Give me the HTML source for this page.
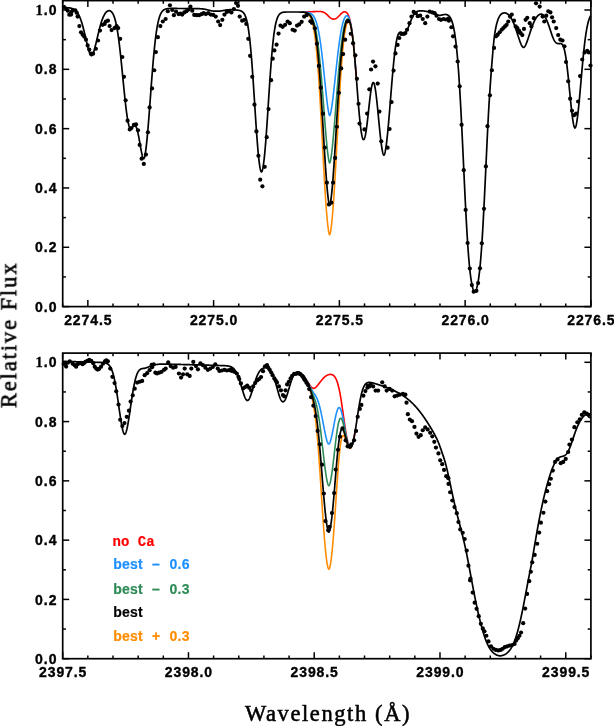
<!DOCTYPE html>
<html><head><meta charset="utf-8"><style>
html,body{margin:0;padding:0;background:#fff;overflow:hidden;width:614px;height:726px;}
svg{display:block;}
text{will-change:transform;}
</style></head><body>
<svg width="614" height="726" viewBox="0 0 614 726">
<rect width="614" height="726" fill="#fff"/>
<g stroke="#000" stroke-width="1.5" fill="none">
<rect x="62.70" y="0.60" width="528.20" height="306.00" fill="none" stroke="#000" stroke-width="1.7"/>
<line x1="62.70" y1="306.60" x2="62.70" y2="303.40"/>
<line x1="62.70" y1="0.60" x2="62.70" y2="3.80"/>
<line x1="87.85" y1="306.60" x2="87.85" y2="300.10"/>
<line x1="87.85" y1="0.60" x2="87.85" y2="7.10"/>
<line x1="113.00" y1="306.60" x2="113.00" y2="303.40"/>
<line x1="113.00" y1="0.60" x2="113.00" y2="3.80"/>
<line x1="138.16" y1="306.60" x2="138.16" y2="303.40"/>
<line x1="138.16" y1="0.60" x2="138.16" y2="3.80"/>
<line x1="163.31" y1="306.60" x2="163.31" y2="303.40"/>
<line x1="163.31" y1="0.60" x2="163.31" y2="3.80"/>
<line x1="188.46" y1="306.60" x2="188.46" y2="303.40"/>
<line x1="188.46" y1="0.60" x2="188.46" y2="3.80"/>
<line x1="213.61" y1="306.60" x2="213.61" y2="300.10"/>
<line x1="213.61" y1="0.60" x2="213.61" y2="7.10"/>
<line x1="238.77" y1="306.60" x2="238.77" y2="303.40"/>
<line x1="238.77" y1="0.60" x2="238.77" y2="3.80"/>
<line x1="263.92" y1="306.60" x2="263.92" y2="303.40"/>
<line x1="263.92" y1="0.60" x2="263.92" y2="3.80"/>
<line x1="289.07" y1="306.60" x2="289.07" y2="303.40"/>
<line x1="289.07" y1="0.60" x2="289.07" y2="3.80"/>
<line x1="314.22" y1="306.60" x2="314.22" y2="303.40"/>
<line x1="314.22" y1="0.60" x2="314.22" y2="3.80"/>
<line x1="339.38" y1="306.60" x2="339.38" y2="300.10"/>
<line x1="339.38" y1="0.60" x2="339.38" y2="7.10"/>
<line x1="364.53" y1="306.60" x2="364.53" y2="303.40"/>
<line x1="364.53" y1="0.60" x2="364.53" y2="3.80"/>
<line x1="389.68" y1="306.60" x2="389.68" y2="303.40"/>
<line x1="389.68" y1="0.60" x2="389.68" y2="3.80"/>
<line x1="414.83" y1="306.60" x2="414.83" y2="303.40"/>
<line x1="414.83" y1="0.60" x2="414.83" y2="3.80"/>
<line x1="439.99" y1="306.60" x2="439.99" y2="303.40"/>
<line x1="439.99" y1="0.60" x2="439.99" y2="3.80"/>
<line x1="465.14" y1="306.60" x2="465.14" y2="300.10"/>
<line x1="465.14" y1="0.60" x2="465.14" y2="7.10"/>
<line x1="490.29" y1="306.60" x2="490.29" y2="303.40"/>
<line x1="490.29" y1="0.60" x2="490.29" y2="3.80"/>
<line x1="515.44" y1="306.60" x2="515.44" y2="303.40"/>
<line x1="515.44" y1="0.60" x2="515.44" y2="3.80"/>
<line x1="540.60" y1="306.60" x2="540.60" y2="303.40"/>
<line x1="540.60" y1="0.60" x2="540.60" y2="3.80"/>
<line x1="565.75" y1="306.60" x2="565.75" y2="303.40"/>
<line x1="565.75" y1="0.60" x2="565.75" y2="3.80"/>
<line x1="590.90" y1="306.60" x2="590.90" y2="300.10"/>
<line x1="590.90" y1="0.60" x2="590.90" y2="7.10"/>
<line x1="62.70" y1="306.60" x2="69.20" y2="306.60"/>
<line x1="590.90" y1="306.60" x2="584.40" y2="306.60"/>
<line x1="62.70" y1="276.94" x2="65.90" y2="276.94"/>
<line x1="590.90" y1="276.94" x2="587.70" y2="276.94"/>
<line x1="62.70" y1="247.28" x2="69.20" y2="247.28"/>
<line x1="590.90" y1="247.28" x2="584.40" y2="247.28"/>
<line x1="62.70" y1="217.62" x2="65.90" y2="217.62"/>
<line x1="590.90" y1="217.62" x2="587.70" y2="217.62"/>
<line x1="62.70" y1="187.96" x2="69.20" y2="187.96"/>
<line x1="590.90" y1="187.96" x2="584.40" y2="187.96"/>
<line x1="62.70" y1="158.30" x2="65.90" y2="158.30"/>
<line x1="590.90" y1="158.30" x2="587.70" y2="158.30"/>
<line x1="62.70" y1="128.64" x2="69.20" y2="128.64"/>
<line x1="590.90" y1="128.64" x2="584.40" y2="128.64"/>
<line x1="62.70" y1="98.98" x2="65.90" y2="98.98"/>
<line x1="590.90" y1="98.98" x2="587.70" y2="98.98"/>
<line x1="62.70" y1="69.32" x2="69.20" y2="69.32"/>
<line x1="590.90" y1="69.32" x2="584.40" y2="69.32"/>
<line x1="62.70" y1="39.66" x2="65.90" y2="39.66"/>
<line x1="590.90" y1="39.66" x2="587.70" y2="39.66"/>
<line x1="62.70" y1="10.00" x2="69.20" y2="10.00"/>
<line x1="590.90" y1="10.00" x2="584.40" y2="10.00"/>
<rect x="62.70" y="353.10" width="528.20" height="305.60" fill="none" stroke="#000" stroke-width="1.7"/>
<line x1="62.70" y1="658.70" x2="62.70" y2="652.20"/>
<line x1="62.70" y1="353.10" x2="62.70" y2="359.60"/>
<line x1="87.85" y1="658.70" x2="87.85" y2="655.50"/>
<line x1="87.85" y1="353.10" x2="87.85" y2="356.30"/>
<line x1="113.00" y1="658.70" x2="113.00" y2="655.50"/>
<line x1="113.00" y1="353.10" x2="113.00" y2="356.30"/>
<line x1="138.16" y1="658.70" x2="138.16" y2="655.50"/>
<line x1="138.16" y1="353.10" x2="138.16" y2="356.30"/>
<line x1="163.31" y1="658.70" x2="163.31" y2="655.50"/>
<line x1="163.31" y1="353.10" x2="163.31" y2="356.30"/>
<line x1="188.46" y1="658.70" x2="188.46" y2="652.20"/>
<line x1="188.46" y1="353.10" x2="188.46" y2="359.60"/>
<line x1="213.61" y1="658.70" x2="213.61" y2="655.50"/>
<line x1="213.61" y1="353.10" x2="213.61" y2="356.30"/>
<line x1="238.77" y1="658.70" x2="238.77" y2="655.50"/>
<line x1="238.77" y1="353.10" x2="238.77" y2="356.30"/>
<line x1="263.92" y1="658.70" x2="263.92" y2="655.50"/>
<line x1="263.92" y1="353.10" x2="263.92" y2="356.30"/>
<line x1="289.07" y1="658.70" x2="289.07" y2="655.50"/>
<line x1="289.07" y1="353.10" x2="289.07" y2="356.30"/>
<line x1="314.22" y1="658.70" x2="314.22" y2="652.20"/>
<line x1="314.22" y1="353.10" x2="314.22" y2="359.60"/>
<line x1="339.38" y1="658.70" x2="339.38" y2="655.50"/>
<line x1="339.38" y1="353.10" x2="339.38" y2="356.30"/>
<line x1="364.53" y1="658.70" x2="364.53" y2="655.50"/>
<line x1="364.53" y1="353.10" x2="364.53" y2="356.30"/>
<line x1="389.68" y1="658.70" x2="389.68" y2="655.50"/>
<line x1="389.68" y1="353.10" x2="389.68" y2="356.30"/>
<line x1="414.83" y1="658.70" x2="414.83" y2="655.50"/>
<line x1="414.83" y1="353.10" x2="414.83" y2="356.30"/>
<line x1="439.99" y1="658.70" x2="439.99" y2="652.20"/>
<line x1="439.99" y1="353.10" x2="439.99" y2="359.60"/>
<line x1="465.14" y1="658.70" x2="465.14" y2="655.50"/>
<line x1="465.14" y1="353.10" x2="465.14" y2="356.30"/>
<line x1="490.29" y1="658.70" x2="490.29" y2="655.50"/>
<line x1="490.29" y1="353.10" x2="490.29" y2="356.30"/>
<line x1="515.44" y1="658.70" x2="515.44" y2="655.50"/>
<line x1="515.44" y1="353.10" x2="515.44" y2="356.30"/>
<line x1="540.60" y1="658.70" x2="540.60" y2="655.50"/>
<line x1="540.60" y1="353.10" x2="540.60" y2="356.30"/>
<line x1="565.75" y1="658.70" x2="565.75" y2="652.20"/>
<line x1="565.75" y1="353.10" x2="565.75" y2="359.60"/>
<line x1="590.90" y1="658.70" x2="590.90" y2="655.50"/>
<line x1="590.90" y1="353.10" x2="590.90" y2="356.30"/>
<line x1="62.70" y1="658.70" x2="69.20" y2="658.70"/>
<line x1="590.90" y1="658.70" x2="584.40" y2="658.70"/>
<line x1="62.70" y1="629.06" x2="65.90" y2="629.06"/>
<line x1="590.90" y1="629.06" x2="587.70" y2="629.06"/>
<line x1="62.70" y1="599.42" x2="69.20" y2="599.42"/>
<line x1="590.90" y1="599.42" x2="584.40" y2="599.42"/>
<line x1="62.70" y1="569.78" x2="65.90" y2="569.78"/>
<line x1="590.90" y1="569.78" x2="587.70" y2="569.78"/>
<line x1="62.70" y1="540.14" x2="69.20" y2="540.14"/>
<line x1="590.90" y1="540.14" x2="584.40" y2="540.14"/>
<line x1="62.70" y1="510.50" x2="65.90" y2="510.50"/>
<line x1="590.90" y1="510.50" x2="587.70" y2="510.50"/>
<line x1="62.70" y1="480.86" x2="69.20" y2="480.86"/>
<line x1="590.90" y1="480.86" x2="584.40" y2="480.86"/>
<line x1="62.70" y1="451.22" x2="65.90" y2="451.22"/>
<line x1="590.90" y1="451.22" x2="587.70" y2="451.22"/>
<line x1="62.70" y1="421.58" x2="69.20" y2="421.58"/>
<line x1="590.90" y1="421.58" x2="584.40" y2="421.58"/>
<line x1="62.70" y1="391.94" x2="65.90" y2="391.94"/>
<line x1="590.90" y1="391.94" x2="587.70" y2="391.94"/>
<line x1="62.70" y1="362.30" x2="69.20" y2="362.30"/>
<line x1="590.90" y1="362.30" x2="584.40" y2="362.30"/>
</g>
<path d="M302.20,11.96L302.45,11.95L302.70,11.95L302.95,11.95L303.20,11.94L303.45,11.94L303.70,11.93L303.95,11.93L304.20,11.93L304.45,11.92L304.70,11.92L304.95,11.91L305.20,11.91L305.45,11.90L305.70,11.90L305.95,11.89L306.20,11.88L306.45,11.88L306.70,11.87L306.95,11.87L307.20,11.86L307.45,11.85L307.70,11.85L307.95,11.84L308.20,11.83L308.45,11.83L308.70,11.82L308.95,11.81L309.20,11.80L309.45,11.80L309.70,11.79L309.95,11.78L310.20,11.77L310.45,11.76L310.70,11.76L310.95,11.75L311.20,11.74L311.45,11.73L311.70,11.72L311.95,11.71L312.20,11.70L312.45,11.69L312.70,11.68L312.95,11.67L313.20,11.66L313.45,11.65L313.70,11.64L313.95,11.63L314.20,11.62L314.45,11.61L314.70,11.60L314.95,11.59L315.20,11.58L315.45,11.57L315.70,11.56L315.95,11.55L316.20,11.54L316.45,11.53L316.70,11.53L316.95,11.52L317.20,11.51L317.45,11.50L317.70,11.50L317.95,11.49L318.20,11.48L318.45,11.48L318.70,11.48L318.95,11.48L319.20,11.48L319.45,11.49L319.70,11.49L319.95,11.50L320.20,11.51L320.45,11.53L320.70,11.55L320.95,11.58L321.20,11.61L321.45,11.64L321.70,11.69L321.95,11.73L322.20,11.79L322.45,11.85L322.70,11.92L322.95,12.00L323.20,12.09L323.45,12.19L323.70,12.30L323.95,12.41L324.20,12.54L324.45,12.68L324.70,12.83L324.95,12.98L325.20,13.15L325.45,13.33L325.70,13.52L325.95,13.72L326.20,13.93L326.45,14.15L326.70,14.37L326.95,14.60L327.20,14.84L327.45,15.08L327.70,15.33L327.95,15.57L328.20,15.82L328.45,16.07L328.70,16.32L328.95,16.56L329.20,16.80L329.45,17.04L329.70,17.26L329.95,17.48L330.20,17.69L330.45,17.89L330.70,18.07L330.95,18.25L331.20,18.40L331.45,18.55L331.70,18.67L331.95,18.78L332.20,18.88L332.45,18.96L332.70,19.02L332.95,19.06L333.20,19.09L333.45,19.11L333.70,19.11L333.95,19.10L334.20,19.08L334.45,19.05L334.70,19.01L334.95,18.95L335.20,18.87L335.45,18.78L335.70,18.67L335.95,18.55L336.20,18.41L336.45,18.25L336.70,18.08L336.95,17.89L337.20,17.69L337.45,17.48L337.70,17.25L337.95,17.02L338.20,16.77L338.45,16.52L338.70,16.26L338.95,16.00L339.20,15.73L339.45,15.47L339.70,15.20L339.95,14.93L340.20,14.67L340.45,14.41L340.70,14.15L340.95,13.91L341.20,13.67L341.45,13.44L341.70,13.22L341.95,13.01L342.20,12.82L342.45,12.64L342.70,12.47L342.95,12.32L343.20,12.19L343.45,12.08L343.70,11.98L343.95,11.90L344.20,11.85L344.45,11.81L344.70,11.80L344.95,11.81L345.20,11.84L345.45,11.91L345.70,11.99L345.95,12.11L346.20,12.26L346.45,12.44L346.70,12.66L346.95,12.92L347.20,13.21L347.45,13.55L347.70,13.94L347.95,14.37L348.20,14.86L348.45,15.40L348.70,16.00L348.95,16.67L349.20,17.40L349.45,18.21L349.70,19.09L349.95,20.05L350.20,21.09L350.45,22.23L350.70,23.45L350.95,24.77L351.20,26.19L351.45,27.71L351.70,29.34L351.95,31.07L352.20,32.91L352.45,34.86L352.70,36.92L352.95,39.09L353.20,41.37L353.45,43.76L353.70,46.25L353.95,48.85L354.20,51.54L354.45,54.33L354.70,57.20L354.95,60.16L355.20,63.19L355.45,66.28L355.70,69.43L355.95,72.63L356.20,75.87L356.45,79.13" fill="none" stroke="#ff0000" stroke-width="1.6" stroke-linejoin="round"/>
<path d="M302.95,12.01L303.20,12.02L303.45,12.02L303.70,12.03L303.95,12.03L304.20,12.04L304.45,12.05L304.70,12.06L304.95,12.07L305.20,12.09L305.45,12.10L305.70,12.12L305.95,12.14L306.20,12.16L306.45,12.19L306.70,12.21L306.95,12.24L307.20,12.28L307.45,12.32L307.70,12.36L307.95,12.41L308.20,12.46L308.45,12.52L308.70,12.59L308.95,12.66L309.20,12.74L309.45,12.83L309.70,12.93L309.95,13.03L310.20,13.15L310.45,13.28L310.70,13.41L310.95,13.57L311.20,13.73L311.45,13.91L311.70,14.11L311.95,14.32L312.20,14.55L312.45,14.80L312.70,15.08L312.95,15.37L313.20,15.69L313.45,16.03L313.70,16.40L313.95,16.80L314.20,17.22L314.45,17.68L314.70,18.17L314.95,18.70L315.20,19.26L315.45,19.87L315.70,20.51L315.95,21.20L316.20,21.93L316.45,22.70L316.70,23.53L316.95,24.40L317.20,25.33L317.45,26.30L317.70,27.34L317.95,28.43L318.20,29.58L318.45,30.79L318.70,32.06L318.95,33.39L319.20,34.78L319.45,36.24L319.70,37.76L319.95,39.35L320.20,41.00L320.45,42.71L320.70,44.49L320.95,46.33L321.20,48.24L321.45,50.20L321.70,52.22L321.95,54.30L322.20,56.43L322.45,58.62L322.70,60.85L322.95,63.12L323.20,65.43L323.45,67.78L323.70,70.16L323.95,72.56L324.20,74.98L324.45,77.42L324.70,79.86L324.95,82.29L325.20,84.72L325.45,87.13L325.70,89.52L325.95,91.87L326.20,94.19L326.45,96.45L326.70,98.65L326.95,100.78L327.20,102.83L327.45,104.78L327.70,106.64L327.95,108.37L328.20,109.98L328.45,111.44L328.70,112.75L328.95,113.86L329.20,114.77L329.45,115.41L329.70,115.57L329.95,115.25L330.20,114.66L330.45,113.86L330.70,112.86L330.95,111.70L331.20,110.39L331.45,108.94L331.70,107.37L331.95,105.69L332.20,103.90L332.45,102.03L332.70,100.07L332.95,98.04L333.20,95.94L333.45,93.79L333.70,91.59L333.95,89.35L334.20,87.08L334.45,84.79L334.70,82.49L334.95,80.16L335.20,77.83L335.45,75.50L335.70,73.17L335.95,70.85L336.20,68.54L336.45,66.25L336.70,63.98L336.95,61.73L337.20,59.52L337.45,57.34L337.70,55.19L337.95,53.09L338.20,51.03L338.45,49.01L338.70,47.05L338.95,45.13L339.20,43.28L339.45,41.47L339.70,39.73L339.95,38.04L340.20,36.42L340.45,34.86L340.70,33.36L340.95,31.92L341.20,30.55L341.45,29.24L341.70,27.99L341.95,26.81L342.20,25.70L342.45,24.64L342.70,23.65L342.95,22.72L343.20,21.85L343.45,21.05L343.70,20.30L343.95,19.61L344.20,18.98L344.45,18.41L344.70,17.89L344.95,17.43L345.20,17.03L345.45,16.68L345.70,16.39L345.95,16.15L346.20,15.97L346.45,15.84L346.70,15.78L346.95,15.77L347.20,15.82L347.45,15.94L347.70,16.11L347.95,16.36L348.20,16.67L348.45,17.05L348.70,17.50L348.95,18.03L349.20,18.64L349.45,19.33L349.70,20.10L349.95,20.97L350.20,21.92L350.45,22.98L350.70,24.13L350.95,25.38L351.20,26.74L351.45,28.20L351.70,29.78L351.95,31.46L352.20,33.26L352.45,35.18L352.70,37.20L352.95,39.34L353.20,41.60L353.45,43.96L353.70,46.43L353.95,49.01L354.20,51.68L354.45,54.45L354.70,57.31L354.95,60.26L355.20,63.27L355.45,66.36L355.70,69.50" fill="none" stroke="#1e90ff" stroke-width="1.6" stroke-linejoin="round"/>
<path d="M307.95,13.29L308.20,13.43L308.45,13.57L308.70,13.73L308.95,13.91L309.20,14.10L309.45,14.30L309.70,14.53L309.95,14.77L310.20,15.04L310.45,15.32L310.70,15.63L310.95,15.97L311.20,16.33L311.45,16.72L311.70,17.14L311.95,17.59L312.20,18.08L312.45,18.60L312.70,19.16L312.95,19.76L313.20,20.40L313.45,21.09L313.70,21.83L313.95,22.61L314.20,23.45L314.45,24.34L314.70,25.29L314.95,26.29L315.20,27.36L315.45,28.49L315.70,29.69L315.95,30.95L316.20,32.29L316.45,33.69L316.70,35.18L316.95,36.73L317.20,38.37L317.45,40.08L317.70,41.88L317.95,43.75L318.20,45.71L318.45,47.75L318.70,49.88L318.95,52.08L319.20,54.37L319.45,56.75L319.70,59.20L319.95,61.73L320.20,64.34L320.45,67.02L320.70,69.78L320.95,72.60L321.20,75.49L321.45,78.44L321.70,81.45L321.95,84.51L322.20,87.62L322.45,90.77L322.70,93.95L322.95,97.16L323.20,100.40L323.45,103.64L323.70,106.90L323.95,110.15L324.20,113.39L324.45,116.62L324.70,119.82L324.95,122.99L325.20,126.11L325.45,129.18L325.70,132.18L325.95,135.12L326.20,137.98L326.45,140.74L326.70,143.41L326.95,145.97L327.20,148.41L327.45,150.72L327.70,152.88L327.95,154.90L328.20,156.75L328.45,158.42L328.70,159.89L328.95,161.14L329.20,162.13L329.45,162.81L329.70,162.95L329.95,162.51L330.20,161.76L330.45,160.75L330.70,159.52L330.95,158.09L331.20,156.48L331.45,154.70L331.70,152.76L331.95,150.68L332.20,148.46L332.45,146.11L332.70,143.66L332.95,141.09L333.20,138.43L333.45,135.67L333.70,132.84L333.95,129.94L334.20,126.97L334.45,123.96L334.70,120.89L334.95,117.78L335.20,114.65L335.45,111.48L335.70,108.30L335.95,105.10L336.20,101.90L336.45,98.70L336.70,95.51L336.95,92.33L337.20,89.17L337.45,86.05L337.70,82.95L337.95,79.90L338.20,76.89L338.45,73.93L338.70,71.02L338.95,68.17L339.20,65.39L339.45,62.67L339.70,60.03L339.95,57.46L340.20,54.96L340.45,52.55L340.70,50.22L340.95,47.97L341.20,45.80L341.45,43.73L341.70,41.74L341.95,39.83L342.20,38.02L342.45,36.29L342.70,34.65L342.95,33.09L343.20,31.63L343.45,30.24L343.70,28.94L343.95,27.73L344.20,26.60L344.45,25.54L344.70,24.57L344.95,23.68L345.20,22.86L345.45,22.13L345.70,21.46L345.95,20.88L346.20,20.37L346.45,19.94L346.70,19.58L346.95,19.30L347.20,19.09L347.45,18.96L347.70,18.91L347.95,18.94L348.20,19.05L348.45,19.25L348.70,19.53L348.95,19.89L349.20,20.35L349.45,20.90L349.70,21.55L349.95,22.29L350.20,23.14L350.45,24.08L350.70,25.14L350.95,26.30L351.20,27.58" fill="none" stroke="#2e8b57" stroke-width="1.6" stroke-linejoin="round"/>
<path d="M303.95,12.35L304.20,12.40L304.45,12.44L304.70,12.50L304.95,12.56L305.20,12.63L305.45,12.70L305.70,12.79L305.95,12.88L306.20,12.98L306.45,13.09L306.70,13.22L306.95,13.36L307.20,13.51L307.45,13.67L307.70,13.86L307.95,14.06L308.20,14.28L308.45,14.52L308.70,14.79L308.95,15.08L309.20,15.39L309.45,15.74L309.70,16.11L309.95,16.52L310.20,16.97L310.45,17.45L310.70,17.98L310.95,18.55L311.20,19.17L311.45,19.84L311.70,20.56L311.95,21.34L312.20,22.18L312.45,23.09L312.70,24.06L312.95,25.11L313.20,26.23L313.45,27.44L313.70,28.72L313.95,30.10L314.20,31.57L314.45,33.14L314.70,34.81L314.95,36.58L315.20,38.46L315.45,40.46L315.70,42.57L315.95,44.80L316.20,47.16L316.45,49.63L316.70,52.24L316.95,54.98L317.20,57.84L317.45,60.84L317.70,63.97L317.95,67.23L318.20,70.63L318.45,74.15L318.70,77.80L318.95,81.57L319.20,85.46L319.45,89.47L319.70,93.59L319.95,97.81L320.20,102.13L320.45,106.54L320.70,111.03L320.95,115.58L321.20,120.20L321.45,124.87L321.70,129.58L321.95,134.32L322.20,139.07L322.45,143.83L322.70,148.58L322.95,153.31L323.20,158.00L323.45,162.65L323.70,167.24L323.95,171.75L324.20,176.19L324.45,180.53L324.70,184.77L324.95,188.90L325.20,192.90L325.45,196.77L325.70,200.49L325.95,204.07L326.20,207.49L326.45,210.75L326.70,213.84L326.95,216.76L327.20,219.49L327.45,222.04L327.70,224.40L327.95,226.56L328.20,228.51L328.45,230.24L328.70,231.75L328.95,233.01L329.20,233.99L329.45,234.64L329.70,234.72L329.95,234.20L330.20,233.35L330.45,232.23L330.70,230.86L330.95,229.26L331.20,227.45L331.45,225.43L331.70,223.22L331.95,220.82L332.20,218.23L332.45,215.47L332.70,212.53L332.95,209.42L333.20,206.15L333.45,202.72L333.70,199.14L333.95,195.42L334.20,191.57L334.45,187.59L334.70,183.49L334.95,179.28L335.20,174.97L335.45,170.56L335.70,166.08L335.95,161.52L336.20,156.91L336.45,152.24L336.70,147.54L336.95,142.81L337.20,138.07L337.45,133.33L337.70,128.60L337.95,123.89L338.20,119.21L338.45,114.58L338.70,110.00L338.95,105.49L339.20,101.05L339.45,96.70L339.70,92.44L339.95,88.28L340.20,84.22L340.45,80.28L340.70,76.46L340.95,72.76L341.20,69.19L341.45,65.76L341.70,62.45L341.95,59.28L342.20,56.25L342.45,53.36L342.70,50.60L342.95,47.98L343.20,45.50L343.45,43.16L343.70,40.95L343.95,38.87L344.20,36.92L344.45,35.10L344.70,33.41L344.95,31.83L345.20,30.38L345.45,29.05L345.70,27.83L345.95,26.73L346.20,25.73L346.45,24.85L346.70,24.07L346.95,23.40L347.20,22.84L347.45,22.38L347.70,22.02L347.95,21.77L348.20,21.62L348.45,21.58L348.70,21.64L348.95,21.81L349.20,22.08L349.45,22.46L349.70,22.95L349.95,23.56L350.20,24.27L350.45,25.11L350.70,26.06L350.95,27.13L351.20,28.31L351.45,29.63L351.70,31.06L351.95,32.62L352.20,34.30L352.45,36.11L352.70,38.04L352.95,40.09L353.20,42.27L353.45,44.56L353.70,46.97L353.95,49.48L354.20,52.11L354.45,54.83L354.70,57.65L354.95,60.55" fill="none" stroke="#ff8c00" stroke-width="1.6" stroke-linejoin="round"/>
<path d="M62.70,7.60L62.95,7.60L63.20,7.60L63.45,7.61L63.70,7.61L63.95,7.62L64.20,7.62L64.45,7.63L64.70,7.63L64.95,7.64L65.20,7.65L65.45,7.65L65.70,7.66L65.95,7.67L66.20,7.68L66.45,7.69L66.70,7.70L66.95,7.72L67.20,7.73L67.45,7.74L67.70,7.76L67.95,7.78L68.20,7.80L68.45,7.82L68.70,7.84L68.95,7.87L69.20,7.90L69.45,7.93L69.70,7.96L69.95,8.00L70.20,8.04L70.45,8.08L70.70,8.13L70.95,8.18L71.20,8.24L71.45,8.30L71.70,8.36L71.95,8.44L72.20,8.52L72.45,8.60L72.70,8.69L72.95,8.79L73.20,8.90L73.45,9.02L73.70,9.15L73.95,9.29L74.20,9.43L74.45,9.59L74.70,9.76L74.95,9.95L75.20,10.15L75.45,10.36L75.70,10.59L75.95,10.83L76.20,11.09L76.45,11.36L76.70,11.66L76.95,11.97L77.20,12.31L77.45,12.66L77.70,13.03L77.95,13.43L78.20,13.85L78.45,14.30L78.70,14.76L78.95,15.26L79.20,15.78L79.45,16.32L79.70,16.89L79.95,17.49L80.20,18.12L80.45,18.77L80.70,19.45L80.95,20.16L81.20,20.90L81.45,21.66L81.70,22.45L81.95,23.27L82.20,24.12L82.45,24.99L82.70,25.89L82.95,26.81L83.20,27.75L83.45,28.72L83.70,29.71L83.95,30.71L84.20,31.73L84.45,32.77L84.70,33.82L84.95,34.88L85.20,35.95L85.45,37.03L85.70,38.11L85.95,39.19L86.20,40.26L86.45,41.34L86.70,42.40L86.95,43.45L87.20,44.48L87.45,45.50L87.70,46.49L87.95,47.46L88.20,48.39L88.45,49.29L88.70,50.16L88.95,50.98L89.20,51.75L89.45,52.47L89.70,53.13L89.95,53.74L90.20,54.28L90.45,54.74L90.70,55.13L90.95,55.44L91.20,55.64L91.45,55.73L91.70,55.64L91.95,55.44L92.20,55.14L92.45,54.75L92.70,54.29L92.95,53.75L93.20,53.15L93.45,52.49L93.70,51.77L93.95,51.00L94.20,50.18L94.45,49.32L94.70,48.42L94.95,47.49L95.20,46.53L95.45,45.54L95.70,44.53L95.95,43.50L96.20,42.45L96.45,41.39L96.70,40.32L96.95,39.25L97.20,38.17L97.45,37.10L97.70,36.03L97.95,34.96L98.20,33.90L98.45,32.86L98.70,31.83L98.95,30.81L99.20,29.81L99.45,28.83L99.70,27.87L99.95,26.93L100.20,26.01L100.45,25.12L100.70,24.26L100.95,23.42L101.20,22.61L101.45,21.82L101.70,21.07L101.95,20.34L102.20,19.64L102.45,18.97L102.70,18.33L102.95,17.71L103.20,17.13L103.45,16.57L103.70,16.04L103.95,15.54L104.20,15.06L104.45,14.61L104.70,14.19L104.95,13.80L105.20,13.43L105.45,13.08L105.70,12.76L105.95,12.46L106.20,12.19L106.45,11.94L106.70,11.71L106.95,11.51L107.20,11.33L107.45,11.17L107.70,11.03L107.95,10.91L108.20,10.82L108.45,10.75L108.70,10.70L108.95,10.67L109.20,10.67L109.45,10.69L109.70,10.73L109.95,10.80L110.20,10.89L110.45,11.01L110.70,11.16L110.95,11.33L111.20,11.54L111.45,11.77L111.70,12.04L111.95,12.34L112.20,12.67L112.45,13.04L112.70,13.45L112.95,13.90L113.20,14.39L113.45,14.92L113.70,15.50L113.95,16.13L114.20,16.80L114.45,17.53L114.70,18.32L114.95,19.15L115.20,20.05L115.45,21.00L115.70,22.02L115.95,23.10L116.20,24.25L116.45,25.46L116.70,26.74L116.95,28.08L117.20,29.50L117.45,30.99L117.70,32.55L117.95,34.17L118.20,35.87L118.45,37.64L118.70,39.48L118.95,41.39L119.20,43.36L119.45,45.40L119.70,47.51L119.95,49.67L120.20,51.89L120.45,54.16L120.70,56.48L120.95,58.85L121.20,61.26L121.45,63.71L121.70,66.19L121.95,68.70L122.20,71.23L122.45,73.77L122.70,76.32L122.95,78.88L123.20,81.43L123.45,83.98L123.70,86.50L123.95,89.01L124.20,91.49L124.45,93.93L124.70,96.34L124.95,98.69L125.20,101.00L125.45,103.24L125.70,105.42L125.95,107.54L126.20,109.57L126.45,111.53L126.70,113.40L126.95,115.19L127.20,116.88L127.45,118.48L127.70,119.97L127.95,121.36L128.20,122.64L128.45,123.81L128.70,124.86L128.95,125.80L129.20,126.60L129.45,127.25L129.70,127.72L129.95,128.06L130.20,128.28L130.45,128.41L130.70,128.45L130.95,128.42L131.20,128.32L131.45,128.17L131.70,127.97L131.95,127.74L132.20,127.48L132.45,127.20L132.70,126.92L132.95,126.64L133.20,126.37L133.45,126.13L133.70,125.91L133.95,125.73L134.20,125.61L134.45,125.53L134.70,125.52L134.95,125.58L135.20,125.72L135.45,125.93L135.70,126.23L135.95,126.62L136.20,127.09L136.45,127.66L136.70,128.32L136.95,129.07L137.20,129.91L137.45,130.84L137.70,131.85L137.95,132.93L138.20,134.09L138.45,135.32L138.70,136.60L138.95,137.94L139.20,139.31L139.45,140.72L139.70,142.15L139.95,143.59L140.20,145.03L140.45,146.46L140.70,147.87L140.95,149.24L141.20,150.58L141.45,151.85L141.70,153.05L141.95,154.18L142.20,155.21L142.45,156.13L142.70,156.94L142.95,157.61L143.20,158.14L143.45,158.50L143.70,158.67L143.95,158.63L144.20,158.27L144.45,157.56L144.70,156.59L144.95,155.42L145.20,154.05L145.45,152.50L145.70,150.77L145.95,148.89L146.20,146.85L146.45,144.67L146.70,142.35L146.95,139.90L147.20,137.32L147.45,134.64L147.70,131.84L147.95,128.95L148.20,125.97L148.45,122.91L148.70,119.77L148.95,116.57L149.20,113.32L149.45,110.02L149.70,106.69L149.95,103.33L150.20,99.95L150.45,96.57L150.70,93.19L150.95,89.82L151.20,86.47L151.45,83.14L151.70,79.86L151.95,76.61L152.20,73.42L152.45,70.29L152.70,67.21L152.95,64.21L153.20,61.29L153.45,58.44L153.70,55.68L153.95,53.00L154.20,50.41L154.45,47.92L154.70,45.52L154.95,43.22L155.20,41.01L155.45,38.90L155.70,36.88L155.95,34.96L156.20,33.14L156.45,31.41L156.70,29.77L156.95,28.22L157.20,26.76L157.45,25.38L157.70,24.09L157.95,22.87L158.20,21.73L158.45,20.67L158.70,19.67L158.95,18.75L159.20,17.88L159.45,17.08L159.70,16.34L159.95,15.65L160.20,15.01L160.45,14.42L160.70,13.88L160.95,13.38L161.20,12.92L161.45,12.49L161.70,12.11L161.95,11.75L162.20,11.43L162.45,11.13L162.70,10.86L162.95,10.62L163.20,10.39L163.45,10.19L163.70,10.01L163.95,9.84L164.20,9.69L164.45,9.55L164.70,9.43L164.95,9.32L165.20,9.22L165.45,9.13L165.70,9.05L165.95,8.98L166.20,8.91L166.45,8.86L166.70,8.81L166.95,8.76L167.20,8.72L167.45,8.68L167.70,8.65L167.95,8.63L168.20,8.60L168.45,8.58L168.70,8.56L168.95,8.54L169.20,8.53L169.45,8.52L169.70,8.51L169.95,8.50L170.20,8.49L170.45,8.48L170.70,8.48L170.95,8.47L171.20,8.47L171.45,8.46L171.70,8.46L171.95,8.46L172.20,8.46L172.45,8.46L172.70,8.46L172.95,8.46L173.20,8.46L173.45,8.46L173.70,8.46L173.95,8.46L174.20,8.46L174.45,8.46L174.70,8.46L174.95,8.46L175.20,8.46L175.45,8.46L175.70,8.47L175.95,8.47L176.20,8.47L176.45,8.47L176.70,8.47L176.95,8.47L177.20,8.48L177.45,8.48L177.70,8.48L177.95,8.48L178.20,8.48L178.45,8.49L178.70,8.49L178.95,8.49L179.20,8.49L179.45,8.49L179.70,8.49L179.95,8.50L180.20,8.50L180.45,8.50L180.70,8.50L180.95,8.50L181.20,8.51L181.45,8.51L181.70,8.51L181.95,8.51L182.20,8.51L182.45,8.52L182.70,8.52L182.95,8.52L183.20,8.52L183.45,8.52L183.70,8.53L183.95,8.53L184.20,8.53L184.45,8.53L184.70,8.53L184.95,8.54L185.20,8.54L185.45,8.54L185.70,8.54L185.95,8.54L186.20,8.55L186.45,8.55L186.70,8.55L186.95,8.55L187.20,8.55L187.45,8.56L187.70,8.56L187.95,8.56L188.20,8.56L188.45,8.56L188.70,8.57L188.95,8.57L189.20,8.57L189.45,8.57L189.70,8.57L189.95,8.58L190.20,8.58L190.45,8.58L190.70,8.58L190.95,8.58L191.20,8.59L191.45,8.59L191.70,8.59L191.95,8.59L192.20,8.59L192.45,8.60L192.70,8.60L192.95,8.60L193.20,8.60L193.45,8.61L193.70,8.61L193.95,8.61L194.20,8.61L194.45,8.62L194.70,8.62L194.95,8.62L195.20,8.62L195.45,8.63L195.70,8.63L195.95,8.63L196.20,8.63L196.45,8.64L196.70,8.64L196.95,8.65L197.20,8.65L197.45,8.65L197.70,8.66L197.95,8.66L198.20,8.67L198.45,8.67L198.70,8.68L198.95,8.69L199.20,8.70L199.45,8.71L199.70,8.72L199.95,8.73L200.20,8.74L200.45,8.75L200.70,8.76L200.95,8.78L201.20,8.80L201.45,8.82L201.70,8.84L201.95,8.86L202.20,8.88L202.45,8.91L202.70,8.93L202.95,8.96L203.20,8.99L203.45,9.03L203.70,9.06L203.95,9.10L204.20,9.14L204.45,9.18L204.70,9.23L204.95,9.28L205.20,9.33L205.45,9.38L205.70,9.43L205.95,9.48L206.20,9.54L206.45,9.60L206.70,9.66L206.95,9.72L207.20,9.78L207.45,9.84L207.70,9.91L207.95,9.97L208.20,10.04L208.45,10.10L208.70,10.16L208.95,10.23L209.20,10.29L209.45,10.35L209.70,10.41L209.95,10.47L210.20,10.52L210.45,10.58L210.70,10.63L210.95,10.68L211.20,10.73L211.45,10.78L211.70,10.82L211.95,10.86L212.20,10.90L212.45,10.94L212.70,10.97L212.95,11.00L213.20,11.03L213.45,11.05L213.70,11.08L213.95,11.10L214.20,11.11L214.45,11.13L214.70,11.14L214.95,11.15L215.20,11.16L215.45,11.17L215.70,11.18L215.95,11.19L216.20,11.19L216.45,11.20L216.70,11.21L216.95,11.21L217.20,11.21L217.45,11.21L217.70,11.21L217.95,11.20L218.20,11.19L218.45,11.18L218.70,11.17L218.95,11.16L219.20,11.14L219.45,11.12L219.70,11.10L219.95,11.07L220.20,11.04L220.45,11.01L220.70,10.98L220.95,10.94L221.20,10.91L221.45,10.87L221.70,10.83L221.95,10.78L222.20,10.74L222.45,10.69L222.70,10.65L222.95,10.60L223.20,10.55L223.45,10.50L223.70,10.45L223.95,10.41L224.20,10.36L224.45,10.31L224.70,10.26L224.95,10.22L225.20,10.17L225.45,10.13L225.70,10.09L225.95,10.05L226.20,10.01L226.45,9.98L226.70,9.94L226.95,9.91L227.20,9.88L227.45,9.86L227.70,9.83L227.95,9.81L228.20,9.79L228.45,9.77L228.70,9.76L228.95,9.74L229.20,9.73L229.45,9.72L229.70,9.72L229.95,9.71L230.20,9.71L230.45,9.71L230.70,9.71L230.95,9.71L231.20,9.71L231.45,9.72L231.70,9.72L231.95,9.73L232.20,9.74L232.45,9.75L232.70,9.76L232.95,9.77L233.20,9.78L233.45,9.80L233.70,9.81L233.95,9.83L234.20,9.84L234.45,9.86L234.70,9.88L234.95,9.89L235.20,9.91L235.45,9.93L235.70,9.95L235.95,9.97L236.20,10.00L236.45,10.02L236.70,10.04L236.95,10.07L237.20,10.10L237.45,10.13L237.70,10.16L237.95,10.19L238.20,10.23L238.45,10.27L238.70,10.31L238.95,10.36L239.20,10.41L239.45,10.46L239.70,10.52L239.95,10.59L240.20,10.66L240.45,10.74L240.70,10.83L240.95,10.93L241.20,11.04L241.45,11.16L241.70,11.30L241.95,11.45L242.20,11.62L242.45,11.80L242.70,12.01L242.95,12.24L243.20,12.49L243.45,12.77L243.70,13.08L243.95,13.42L244.20,13.80L244.45,14.21L244.70,14.67L244.95,15.18L245.20,15.73L245.45,16.34L245.70,17.00L245.95,17.72L246.20,18.51L246.45,19.37L246.70,20.31L246.95,21.32L247.20,22.42L247.45,23.61L247.70,24.88L247.95,26.26L248.20,27.74L248.45,29.32L248.70,31.01L248.95,32.82L249.20,34.74L249.45,36.78L249.70,38.94L249.95,41.22L250.20,43.63L250.45,46.15L250.70,48.81L250.95,51.58L251.20,54.48L251.45,57.49L251.70,60.61L251.95,63.85L252.20,67.19L252.45,70.62L252.70,74.14L252.95,77.75L253.20,81.43L253.45,85.17L253.70,88.96L253.95,92.80L254.20,96.67L254.45,100.55L254.70,104.44L254.95,108.33L255.20,112.20L255.45,116.04L255.70,119.83L255.95,123.57L256.20,127.24L256.45,130.83L256.70,134.33L256.95,137.73L257.20,141.02L257.45,144.18L257.70,147.22L257.95,150.11L258.20,152.85L258.45,155.44L258.70,157.87L258.95,160.12L259.20,162.20L259.45,164.10L259.70,165.81L259.95,167.32L260.20,168.63L260.45,169.74L260.70,170.63L260.95,171.31L261.20,171.75L261.45,171.93L261.70,171.82L261.95,171.45L262.20,170.84L262.45,170.01L262.70,168.96L262.95,167.71L263.20,166.26L263.45,164.60L263.70,162.76L263.95,160.74L264.20,158.54L264.45,156.16L264.70,153.63L264.95,150.93L265.20,148.09L265.45,145.10L265.70,141.98L265.95,138.74L266.20,135.38L266.45,131.92L266.70,128.36L266.95,124.73L267.20,121.02L267.45,117.26L267.70,113.45L267.95,109.61L268.20,105.75L268.45,101.88L268.70,98.01L268.95,94.16L269.20,90.34L269.45,86.55L269.70,82.82L269.95,79.15L270.20,75.55L270.45,72.03L270.70,68.60L270.95,65.26L271.20,62.03L271.45,58.90L271.70,55.89L271.95,52.99L272.20,50.21L272.45,47.55L272.70,45.02L272.95,42.61L273.20,40.32L273.45,38.16L273.70,36.11L273.95,34.19L274.20,32.38L274.45,30.69L274.70,29.10L274.95,27.63L275.20,26.25L275.45,24.97L275.70,23.79L275.95,22.69L276.20,21.68L276.45,20.75L276.70,19.90L276.95,19.11L277.20,18.40L277.45,17.74L277.70,17.15L277.95,16.60L278.20,16.11L278.45,15.66L278.70,15.26L278.95,14.89L279.20,14.56L279.45,14.27L279.70,14.00L279.95,13.77L280.20,13.55L280.45,13.36L280.70,13.19L280.95,13.04L281.20,12.91L281.45,12.79L281.70,12.69L281.95,12.59L282.20,12.51L282.45,12.44L282.70,12.38L282.95,12.32L283.20,12.27L283.45,12.23L283.70,12.20L283.95,12.16L284.20,12.14L284.45,12.11L284.70,12.09L284.95,12.08L285.20,12.06L285.45,12.05L285.70,12.04L285.95,12.03L286.20,12.02L286.45,12.02L286.70,12.01L286.95,12.01L287.20,12.00L287.45,12.00L287.70,12.00L287.95,12.00L288.20,12.00L288.45,12.00L288.70,12.00L288.95,12.00L289.20,12.00L289.45,12.00L289.70,12.00L289.95,12.00L290.20,12.00L290.45,12.00L290.70,12.00L290.95,12.00L291.20,12.00L291.45,12.00L291.70,12.00L291.95,12.00L292.20,12.00L292.45,12.00L292.70,12.01L292.95,12.01L293.20,12.01L293.45,12.01L293.70,12.01L293.95,12.01L294.20,12.01L294.45,12.01L294.70,12.01L294.95,12.01L295.20,12.01L295.45,12.01L295.70,12.01L295.95,12.01L296.20,12.01L296.45,12.01L296.70,12.01L296.95,12.01L297.20,12.01L297.45,12.01L297.70,12.01L297.95,12.01L298.20,12.02L298.45,12.02L298.70,12.02L298.95,12.02L299.20,12.02L299.45,12.02L299.70,12.03L299.95,12.03L300.20,12.03L300.45,12.04L300.70,12.04L300.95,12.05L301.20,12.05L301.45,12.06L301.70,12.07L301.95,12.08L302.20,12.09L302.45,12.10L302.70,12.12L302.95,12.13L303.20,12.15L303.45,12.17L303.70,12.20L303.95,12.22L304.20,12.25L304.45,12.29L304.70,12.32L304.95,12.36L305.20,12.41L305.45,12.46L305.70,12.52L305.95,12.58L306.20,12.66L306.45,12.73L306.70,12.82L306.95,12.92L307.20,13.03L307.45,13.14L307.70,13.27L307.95,13.41L308.20,13.57L308.45,13.74L308.70,13.93L308.95,14.14L309.20,14.37L309.45,14.62L309.70,14.89L309.95,15.18L310.20,15.50L310.45,15.85L310.70,16.24L310.95,16.65L311.20,17.10L311.45,17.59L311.70,18.12L311.95,18.69L312.20,19.31L312.45,19.97L312.70,20.69L312.95,21.47L313.20,22.30L313.45,23.19L313.70,24.15L313.95,25.18L314.20,26.28L314.45,27.45L314.70,28.70L314.95,30.04L315.20,31.46L315.45,32.97L315.70,34.58L315.95,36.28L316.20,38.08L316.45,39.98L316.70,41.99L316.95,44.10L317.20,46.33L317.45,48.66L317.70,51.11L317.95,53.68L318.20,56.35L318.45,59.14L318.70,62.05L318.95,65.07L319.20,68.20L319.45,71.44L319.70,74.79L319.95,78.25L320.20,81.80L320.45,85.45L320.70,89.19L320.95,93.01L321.20,96.91L321.45,100.88L321.70,104.92L321.95,109.00L322.20,113.13L322.45,117.30L322.70,121.49L322.95,125.70L323.20,129.91L323.45,134.12L323.70,138.31L323.95,142.47L324.20,146.59L324.45,150.66L324.70,154.67L324.95,158.60L325.20,162.45L325.45,166.21L325.70,169.86L325.95,173.40L326.20,176.81L326.45,180.09L326.70,183.22L326.95,186.20L327.20,189.02L327.45,191.67L327.70,194.14L327.95,196.41L328.20,198.49L328.45,200.34L328.70,201.96L328.95,203.33L329.20,204.40L329.45,205.12L329.70,205.22L329.95,204.69L330.20,203.79L330.45,202.61L330.70,201.17L330.95,199.50L331.20,197.61L331.45,195.51L331.70,193.23L331.95,190.77L332.20,188.13L332.45,185.33L332.70,182.37L332.95,179.27L333.20,176.03L333.45,172.67L333.70,169.18L333.95,165.59L334.20,161.89L334.45,158.11L334.70,154.24L334.95,150.31L335.20,146.31L335.45,142.25L335.70,138.16L335.95,134.03L336.20,129.87L336.45,125.71L336.70,121.54L336.95,117.38L337.20,113.23L337.45,109.11L337.70,105.02L337.95,100.98L338.20,97.00L338.45,93.07L338.70,89.21L338.95,85.43L339.20,81.72L339.45,78.11L339.70,74.59L339.95,71.17L340.20,67.86L340.45,64.65L340.70,61.55L340.95,58.56L341.20,55.69L341.45,52.94L341.70,50.31L341.95,47.79L342.20,45.39L342.45,43.11L342.70,40.95L342.95,38.90L343.20,36.97L343.45,35.15L343.70,33.44L343.95,31.85L344.20,30.36L344.45,28.98L344.70,27.70L344.95,26.52L345.20,25.44L345.45,24.46L345.70,23.57L345.95,22.78L346.20,22.08L346.45,21.47L346.70,20.96L346.95,20.53L347.20,20.19L347.45,19.94L347.70,19.78L347.95,19.71L348.20,19.73L348.45,19.85L348.70,20.05L348.95,20.36L349.20,20.76L349.45,21.25L349.70,21.85L349.95,22.56L350.20,23.36L350.45,24.28L350.70,25.31L350.95,26.45L351.20,27.70L351.45,29.07L351.70,30.56L351.95,32.17L352.20,33.89L352.45,35.74L352.70,37.71L352.95,39.80L353.20,42.00L353.45,44.32L353.70,46.75L353.95,49.29L354.20,51.94L354.45,54.68L354.70,57.51L354.95,60.43L355.20,63.43L355.45,66.50L355.70,69.62L355.95,72.80L356.20,76.02L356.45,79.26L356.70,82.52L356.95,85.79L357.20,89.06L357.45,92.31L357.70,95.52L357.95,98.70L358.20,101.83L358.45,104.89L358.70,107.88L358.95,110.78L359.20,113.59L359.45,116.29L359.70,118.88L359.95,121.35L360.20,123.69L360.45,125.89L360.70,127.94L360.95,129.84L361.20,131.59L361.45,133.17L361.70,134.59L361.95,135.84L362.20,136.92L362.45,137.82L362.70,138.55L362.95,139.09L363.20,139.45L363.45,139.63L363.70,139.62L363.95,139.42L364.20,139.05L364.45,138.51L364.70,137.80L364.95,136.92L365.20,135.89L365.45,134.71L365.70,133.37L365.95,131.90L366.20,130.30L366.45,128.58L366.70,126.75L366.95,124.81L367.20,122.78L367.45,120.68L367.70,118.50L367.95,116.27L368.20,114.00L368.45,111.71L368.70,109.40L368.95,107.09L369.20,104.81L369.45,102.56L369.70,100.36L369.95,98.22L370.20,96.17L370.45,94.21L370.70,92.36L370.95,90.64L371.20,89.05L371.45,87.61L371.70,86.34L371.95,85.23L372.20,84.30L372.45,83.56L372.70,83.01L372.95,82.66L373.20,82.51L373.45,82.56L373.70,82.82L373.95,83.27L374.20,83.92L374.45,84.77L374.70,85.80L374.95,87.01L375.20,88.40L375.45,89.95L375.70,91.66L375.95,93.51L376.20,95.50L376.45,97.60L376.70,99.81L376.95,102.12L377.20,104.51L377.45,106.97L377.70,109.48L377.95,112.03L378.20,114.62L378.45,117.21L378.70,119.81L378.95,122.40L379.20,124.97L379.45,127.50L379.70,129.98L379.95,132.41L380.20,134.77L380.45,137.04L380.70,139.23L380.95,141.32L381.20,143.30L381.45,145.17L381.70,146.91L381.95,148.51L382.20,149.97L382.45,151.27L382.70,152.42L382.95,153.39L383.20,154.17L383.45,154.76L383.70,155.12L383.95,155.19L384.20,154.92L384.45,154.40L384.70,153.66L384.95,152.74L385.20,151.63L385.45,150.34L385.70,148.89L385.95,147.29L386.20,145.53L386.45,143.64L386.70,141.61L386.95,139.45L387.20,137.17L387.45,134.78L387.70,132.29L387.95,129.69L388.20,127.01L388.45,124.24L388.70,121.40L388.95,118.50L389.20,115.54L389.45,112.52L389.70,109.47L389.95,106.39L390.20,103.29L390.45,100.17L390.70,97.05L390.95,93.93L391.20,90.83L391.45,87.75L391.70,84.69L391.95,81.68L392.20,78.72L392.45,75.80L392.70,72.95L392.95,70.17L393.20,67.46L393.45,64.84L393.70,62.29L393.95,59.85L394.20,57.49L394.45,55.24L394.70,53.09L394.95,51.05L395.20,49.11L395.45,47.29L395.70,45.58L395.95,43.98L396.20,42.50L396.45,41.13L396.70,39.86L396.95,38.71L397.20,37.67L397.45,36.73L397.70,35.90L397.95,35.16L398.20,34.52L398.45,33.96L398.70,33.50L398.95,33.11L399.20,32.80L399.45,32.55L399.70,32.37L399.95,32.25L400.20,32.18L400.45,32.15L400.70,32.16L400.95,32.20L401.20,32.26L401.45,32.35L401.70,32.44L401.95,32.55L402.20,32.65L402.45,32.76L402.70,32.85L402.95,32.93L403.20,32.99L403.45,33.03L403.70,33.05L403.95,33.04L404.20,32.99L404.45,32.92L404.70,32.81L404.95,32.67L405.20,32.50L405.45,32.28L405.70,32.04L405.95,31.75L406.20,31.42L406.45,31.06L406.70,30.66L406.95,30.22L407.20,29.75L407.45,29.25L407.70,28.72L407.95,28.16L408.20,27.58L408.45,26.98L408.70,26.36L408.95,25.73L409.20,25.08L409.45,24.43L409.70,23.77L409.95,23.11L410.20,22.45L410.45,21.80L410.70,21.15L410.95,20.52L411.20,19.89L411.45,19.29L411.70,18.69L411.95,18.12L412.20,17.57L412.45,17.04L412.70,16.54L412.95,16.06L413.20,15.60L413.45,15.17L413.70,14.76L413.95,14.38L414.20,14.02L414.45,13.68L414.70,13.38L414.95,13.09L415.20,12.83L415.45,12.58L415.70,12.36L415.95,12.16L416.20,11.98L416.45,11.82L416.70,11.67L416.95,11.54L417.20,11.42L417.45,11.32L417.70,11.22L417.95,11.14L418.20,11.08L418.45,11.02L418.70,10.97L418.95,10.92L419.20,10.89L419.45,10.86L419.70,10.84L419.95,10.82L420.20,10.81L420.45,10.80L420.70,10.80L420.95,10.80L421.20,10.81L421.45,10.82L421.70,10.83L421.95,10.84L422.20,10.86L422.45,10.87L422.70,10.89L422.95,10.92L423.20,10.94L423.45,10.97L423.70,10.99L423.95,11.02L424.20,11.05L424.45,11.09L424.70,11.12L424.95,11.16L425.20,11.19L425.45,11.23L425.70,11.27L425.95,11.31L426.20,11.36L426.45,11.40L426.70,11.45L426.95,11.50L427.20,11.55L427.45,11.60L427.70,11.66L427.95,11.71L428.20,11.77L428.45,11.83L428.70,11.89L428.95,11.95L429.20,12.02L429.45,12.08L429.70,12.15L429.95,12.22L430.20,12.30L430.45,12.37L430.70,12.44L430.95,12.52L431.20,12.60L431.45,12.68L431.70,12.77L431.95,12.85L432.20,12.94L432.45,13.02L432.70,13.11L432.95,13.20L433.20,13.29L433.45,13.39L433.70,13.48L433.95,13.57L434.20,13.67L434.45,13.77L434.70,13.86L434.95,13.96L435.20,14.06L435.45,14.15L435.70,14.25L435.95,14.35L436.20,14.44L436.45,14.54L436.70,14.63L436.95,14.72L437.20,14.81L437.45,14.90L437.70,14.99L437.95,15.07L438.20,15.15L438.45,15.22L438.70,15.29L438.95,15.34L439.20,15.39L439.45,15.43L439.70,15.42L439.95,15.39L440.20,15.36L440.45,15.32L440.70,15.27L440.95,15.22L441.20,15.16L441.45,15.11L441.70,15.05L441.95,14.99L442.20,14.93L442.45,14.88L442.70,14.82L442.95,14.77L443.20,14.72L443.45,14.67L443.70,14.62L443.95,14.58L444.20,14.55L444.45,14.52L444.70,14.50L444.95,14.48L445.20,14.47L445.45,14.47L445.70,14.49L445.95,14.51L446.20,14.54L446.45,14.58L446.70,14.64L446.95,14.71L447.20,14.80L447.45,14.90L447.70,15.02L447.95,15.16L448.20,15.31L448.45,15.50L448.70,15.70L448.95,15.93L449.20,16.18L449.45,16.47L449.70,16.78L449.95,17.13L450.20,17.51L450.45,17.93L450.70,18.39L450.95,18.89L451.20,19.43L451.45,20.02L451.70,20.66L451.95,21.36L452.20,22.11L452.45,22.92L452.70,23.79L452.95,24.73L453.20,25.74L453.45,26.83L453.70,27.99L453.95,29.23L454.20,30.56L454.45,31.98L454.70,33.50L454.95,35.11L455.20,36.82L455.45,38.64L455.70,40.57L455.95,42.61L456.20,44.77L456.45,47.05L456.70,49.46L456.95,52.00L457.20,54.67L457.45,57.47L457.70,60.41L457.95,63.48L458.20,66.70L458.45,70.06L458.70,73.56L458.95,77.20L459.20,80.98L459.45,84.91L459.70,88.97L459.95,93.16L460.20,97.49L460.45,101.94L460.70,106.52L460.95,111.21L461.20,116.01L461.45,120.92L461.70,125.91L461.95,130.99L462.20,136.14L462.45,141.36L462.70,146.63L462.95,151.94L463.20,157.28L463.45,162.63L463.70,167.99L463.95,173.33L464.20,178.66L464.45,183.94L464.70,189.18L464.95,194.35L465.20,199.44L465.45,204.45L465.70,209.36L465.95,214.16L466.20,218.84L466.45,223.39L466.70,227.81L466.95,232.08L467.20,236.20L467.45,240.17L467.70,243.98L467.95,247.62L468.20,251.10L468.45,254.41L468.70,257.56L468.95,260.54L469.20,263.36L469.45,266.02L469.70,268.52L469.95,270.87L470.20,273.06L470.45,275.11L470.70,277.01L470.95,278.78L471.20,280.42L471.45,281.94L471.70,283.33L471.95,284.61L472.20,285.77L472.45,286.83L472.70,287.79L472.95,288.65L473.20,289.42L473.45,290.09L473.70,290.67L473.95,291.16L474.20,291.56L474.45,291.85L474.70,292.02L474.95,291.96L475.20,291.73L475.45,291.39L475.70,290.96L475.95,290.42L476.20,289.80L476.45,289.09L476.70,288.28L476.95,287.37L477.20,286.37L477.45,285.26L477.70,284.05L477.95,282.72L478.20,281.27L478.45,279.70L478.70,278.01L478.95,276.18L479.20,274.21L479.45,272.10L479.70,269.84L479.95,267.42L480.20,264.85L480.45,262.12L480.70,259.23L480.95,256.18L481.20,252.96L481.45,249.57L481.70,246.02L481.95,242.30L482.20,238.42L482.45,234.39L482.70,230.20L482.95,225.86L483.20,221.39L483.45,216.78L483.70,212.04L483.95,207.19L484.20,202.24L484.45,197.19L484.70,192.06L484.95,186.86L485.20,181.60L485.45,176.30L485.70,170.97L485.95,165.62L486.20,160.26L486.45,154.91L486.70,149.59L486.95,144.30L487.20,139.05L487.45,133.87L487.70,128.78L487.95,123.79L488.20,118.95L488.45,114.27L488.70,109.77L488.95,105.48L489.20,101.37L489.45,97.41L489.70,93.58L489.95,89.83L490.20,86.15L490.45,82.52L490.70,78.96L490.95,75.47L491.20,72.09L491.45,68.83L491.70,65.69L491.95,62.63L492.20,59.62L492.45,56.65L492.70,53.70L492.95,50.78L493.20,47.93L493.45,45.19L493.70,42.60L493.95,40.20L494.20,38.00L494.45,36.01L494.70,34.20L494.95,32.55L495.20,31.02L495.45,29.60L495.70,28.28L495.95,27.04L496.20,25.89L496.45,24.80L496.70,23.79L496.95,22.85L497.20,21.97L497.45,21.15L497.70,20.39L497.95,19.68L498.20,19.02L498.45,18.42L498.70,17.85L498.95,17.33L499.20,16.85L499.45,16.41L499.70,16.00L499.95,15.63L500.20,15.28L500.45,14.97L500.70,14.69L500.95,14.43L501.20,14.19L501.45,13.98L501.70,13.80L501.95,13.63L502.20,13.48L502.45,13.35L502.70,13.24L502.95,13.15L503.20,13.07L503.45,13.01L503.70,12.96L503.95,12.93L504.20,12.91L504.45,12.91L504.70,12.92L504.95,12.94L505.20,12.98L505.45,13.03L505.70,13.09L505.95,13.17L506.20,13.26L506.45,13.37L506.70,13.48L506.95,13.61L507.20,13.76L507.45,13.91L507.70,14.09L507.95,14.27L508.20,14.48L508.45,14.69L508.70,14.93L508.95,15.17L509.20,15.44L509.45,15.72L509.70,16.02L509.95,16.33L510.20,16.66L510.45,17.01L510.70,17.38L510.95,17.77L511.20,18.18L511.45,18.60L511.70,19.04L511.95,19.51L512.20,19.99L512.45,20.49L512.70,21.01L512.95,21.55L513.20,22.11L513.45,22.68L513.70,23.28L513.95,23.89L514.20,24.52L514.45,25.17L514.70,25.83L514.95,26.51L515.20,27.21L515.45,27.92L515.70,28.64L515.95,29.37L516.20,30.12L516.45,30.87L516.70,31.63L516.95,32.40L517.20,33.17L517.45,33.95L517.70,34.72L517.95,35.50L518.20,36.27L518.45,37.04L518.70,37.80L518.95,38.56L519.20,39.30L519.45,40.03L519.70,40.74L519.95,41.43L520.20,42.10L520.45,42.75L520.70,43.37L520.95,43.96L521.20,44.52L521.45,45.04L521.70,45.52L521.95,45.96L522.20,46.36L522.45,46.71L522.70,47.00L522.95,47.23L523.20,47.40L523.45,47.49L523.70,47.46L523.95,47.34L524.20,47.14L524.45,46.88L524.70,46.57L524.95,46.20L525.20,45.78L525.45,45.33L525.70,44.83L525.95,44.29L526.20,43.72L526.45,43.12L526.70,42.49L526.95,41.84L527.20,41.16L527.45,40.46L527.70,39.74L527.95,39.01L528.20,38.27L528.45,37.52L528.70,36.75L528.95,35.99L529.20,35.22L529.45,34.44L529.70,33.67L529.95,32.90L530.20,32.13L530.45,31.37L530.70,30.62L530.95,29.87L531.20,29.14L531.45,28.41L531.70,27.70L531.95,27.00L532.20,26.32L532.45,25.65L532.70,25.00L532.95,24.36L533.20,23.74L533.45,23.14L533.70,22.56L533.95,22.00L534.20,21.45L534.45,20.93L534.70,20.42L534.95,19.94L535.20,19.47L535.45,19.02L535.70,18.60L535.95,18.19L536.20,17.80L536.45,17.44L536.70,17.09L536.95,16.76L537.20,16.45L537.45,16.16L537.70,15.89L537.95,15.64L538.20,15.41L538.45,15.19L538.70,15.00L538.95,14.82L539.20,14.66L539.45,14.53L539.70,14.41L539.95,14.31L540.20,14.23L540.45,14.17L540.70,14.12L540.95,14.10L541.20,14.10L541.45,14.12L541.70,14.17L541.95,14.23L542.20,14.32L542.45,14.43L542.70,14.56L542.95,14.72L543.20,14.90L543.45,15.10L543.70,15.33L543.95,15.59L544.20,15.87L544.45,16.18L544.70,16.51L544.95,16.87L545.20,17.26L545.45,17.68L545.70,18.12L545.95,18.59L546.20,19.09L546.45,19.61L546.70,20.16L546.95,20.73L547.20,21.32L547.45,21.94L547.70,22.58L547.95,23.24L548.20,23.92L548.45,24.62L548.70,25.33L548.95,26.06L549.20,26.80L549.45,27.54L549.70,28.30L549.95,29.06L550.20,29.82L550.45,30.58L550.70,31.34L550.95,32.09L551.20,32.84L551.45,33.57L551.70,34.29L551.95,35.00L552.20,35.69L552.45,36.35L552.70,37.00L552.95,37.62L553.20,38.21L553.45,38.77L553.70,39.31L553.95,39.81L554.20,40.28L554.45,40.71L554.70,41.12L554.95,41.48L555.20,41.82L555.45,42.12L555.70,42.38L555.95,42.62L556.20,42.82L556.45,43.00L556.70,43.15L556.95,43.28L557.20,43.39L557.45,43.48L557.70,43.55L557.95,43.60L558.20,43.63L558.45,43.64L558.70,43.64L558.95,43.63L559.20,43.61L559.45,43.58L559.70,43.55L559.95,43.53L560.20,43.52L560.45,43.52L560.70,43.54L560.95,43.58L561.20,43.66L561.45,43.77L561.70,43.92L561.95,44.12L562.20,44.38L562.45,44.69L562.70,45.07L562.95,45.52L563.20,46.05L563.45,46.66L563.70,47.36L563.95,48.14L564.20,49.03L564.45,50.01L564.70,51.09L564.95,52.27L565.20,53.56L565.45,54.96L565.70,56.46L565.95,58.07L566.20,59.78L566.45,61.59L566.70,63.51L566.95,65.51L567.20,67.61L567.45,69.78L567.70,72.04L567.95,74.37L568.20,76.76L568.45,79.20L568.70,81.69L568.95,84.22L569.20,86.77L569.45,89.33L569.70,91.91L569.95,94.47L570.20,97.02L570.45,99.54L570.70,102.03L570.95,104.46L571.20,106.83L571.45,109.14L571.70,111.35L571.95,113.48L572.20,115.50L572.45,117.41L572.70,119.20L572.95,120.85L573.20,122.36L573.45,123.72L573.70,124.92L573.95,125.94L574.20,126.78L574.45,127.42L574.70,127.84L574.95,128.02L575.20,127.88L575.45,127.47L575.70,126.83L575.95,125.99L576.20,124.96L576.45,123.75L576.70,122.37L576.95,120.83L577.20,119.14L577.45,117.30L577.70,115.33L577.95,113.24L578.20,111.02L578.45,108.70L578.70,106.28L578.95,103.78L579.20,101.19L579.45,98.54L579.70,95.82L579.95,93.06L580.20,90.26L580.45,87.42L580.70,84.57L580.95,81.71L581.20,78.84L581.45,75.98L581.70,73.14L581.95,70.33L582.20,67.55L582.45,64.81L582.70,62.11L582.95,59.48L583.20,56.90L583.45,54.39L583.70,51.94L583.95,49.58L584.20,47.29L584.45,45.08L584.70,42.96L584.95,40.92L585.20,38.97L585.45,37.11L585.70,35.34L585.95,33.65L586.20,32.05L586.45,30.54L586.70,29.11L586.95,27.76L587.20,26.49L587.45,25.31L587.70,24.19L587.95,23.15L588.20,22.19L588.45,21.28L588.70,20.45L588.95,19.67L589.20,18.95L589.45,18.29L589.70,17.68L589.95,17.11L590.20,16.60L590.45,16.12L590.70,15.69" fill="none" stroke="#000" stroke-width="1.7" stroke-linejoin="round"/>
<circle cx="63.91" cy="6.84" r="2.1"/>
<circle cx="66.35" cy="8.80" r="2.1"/>
<circle cx="67.79" cy="10.74" r="2.1"/>
<circle cx="69.29" cy="14.66" r="2.1"/>
<circle cx="71.09" cy="14.55" r="2.1"/>
<circle cx="71.24" cy="12.22" r="2.1"/>
<circle cx="72.71" cy="10.26" r="2.1"/>
<circle cx="75.22" cy="10.25" r="2.1"/>
<circle cx="76.62" cy="12.71" r="2.1"/>
<circle cx="77.60" cy="16.62" r="2.1"/>
<circle cx="79.36" cy="26.12" r="2.1"/>
<circle cx="81.01" cy="32.23" r="2.1"/>
<circle cx="82.66" cy="34.71" r="2.1"/>
<circle cx="84.31" cy="36.69" r="2.1"/>
<circle cx="85.97" cy="39.67" r="2.1"/>
<circle cx="87.62" cy="45.45" r="2.1"/>
<circle cx="89.27" cy="49.59" r="2.1"/>
<circle cx="90.93" cy="53.72" r="2.1"/>
<circle cx="93.07" cy="53.72" r="2.1"/>
<circle cx="95.88" cy="48.76" r="2.1"/>
<circle cx="98.03" cy="40.50" r="2.1"/>
<circle cx="100.02" cy="30.58" r="2.1"/>
<circle cx="102.50" cy="24.79" r="2.1"/>
<circle cx="104.64" cy="23.97" r="2.1"/>
<circle cx="105.80" cy="21.49" r="2.1"/>
<circle cx="107.95" cy="20.66" r="2.1"/>
<circle cx="109.60" cy="26.12" r="2.1"/>
<circle cx="111.59" cy="30.08" r="2.1"/>
<circle cx="114.56" cy="28.10" r="2.1"/>
<circle cx="116.55" cy="26.12" r="2.1"/>
<circle cx="118.20" cy="28.10" r="2.1"/>
<circle cx="120.18" cy="38.84" r="2.1"/>
<circle cx="122.33" cy="57.02" r="2.1"/>
<circle cx="123.98" cy="76.86" r="2.1"/>
<circle cx="125.62" cy="100.33" r="2.1"/>
<circle cx="127.60" cy="120.66" r="2.1"/>
<circle cx="129.75" cy="129.42" r="2.1"/>
<circle cx="131.40" cy="128.10" r="2.1"/>
<circle cx="133.88" cy="124.79" r="2.1"/>
<circle cx="136.03" cy="124.46" r="2.1"/>
<circle cx="138.02" cy="130.25" r="2.1"/>
<circle cx="139.67" cy="144.96" r="2.1"/>
<circle cx="141.65" cy="158.68" r="2.1"/>
<circle cx="143.80" cy="163.97" r="2.1"/>
<circle cx="145.95" cy="154.55" r="2.1"/>
<circle cx="147.93" cy="132.23" r="2.1"/>
<circle cx="149.60" cy="107.44" r="2.1"/>
<circle cx="152.08" cy="88.43" r="2.1"/>
<circle cx="154.23" cy="70.25" r="2.1"/>
<circle cx="155.88" cy="52.07" r="2.1"/>
<circle cx="157.87" cy="37.19" r="2.1"/>
<circle cx="160.35" cy="26.12" r="2.1"/>
<circle cx="162.83" cy="21.49" r="2.1"/>
<circle cx="165.64" cy="19.01" r="2.1"/>
<circle cx="167.79" cy="11.24" r="2.1"/>
<circle cx="169.93" cy="5.29" r="2.1"/>
<circle cx="172.25" cy="9.92" r="2.1"/>
<circle cx="173.90" cy="15.21" r="2.1"/>
<circle cx="176.05" cy="11.57" r="2.1"/>
<circle cx="178.53" cy="14.05" r="2.1"/>
<circle cx="180.51" cy="13.55" r="2.1"/>
<circle cx="182.17" cy="14.55" r="2.1"/>
<circle cx="184.31" cy="12.40" r="2.1"/>
<circle cx="186.46" cy="11.24" r="2.1"/>
<circle cx="188.45" cy="9.59" r="2.1"/>
<circle cx="190.43" cy="6.61" r="2.1"/>
<circle cx="192.25" cy="10.74" r="2.1"/>
<circle cx="194.23" cy="14.88" r="2.1"/>
<circle cx="196.71" cy="15.21" r="2.1"/>
<circle cx="199.19" cy="15.21" r="2.1"/>
<circle cx="201.67" cy="14.21" r="2.1"/>
<circle cx="203.65" cy="13.22" r="2.1"/>
<circle cx="205.80" cy="14.05" r="2.1"/>
<circle cx="208.28" cy="13.22" r="2.1"/>
<circle cx="210.76" cy="14.55" r="2.1"/>
<circle cx="213.24" cy="14.88" r="2.1"/>
<circle cx="215.72" cy="16.53" r="2.1"/>
<circle cx="218.20" cy="21.49" r="2.1"/>
<circle cx="220.18" cy="25.12" r="2.1"/>
<circle cx="222.33" cy="19.83" r="2.1"/>
<circle cx="224.48" cy="14.55" r="2.1"/>
<circle cx="226.79" cy="11.90" r="2.1"/>
<circle cx="228.94" cy="11.24" r="2.1"/>
<circle cx="231.42" cy="12.40" r="2.1"/>
<circle cx="233.90" cy="9.09" r="2.1"/>
<circle cx="236.05" cy="2.98" r="2.1"/>
<circle cx="238.03" cy="5.79" r="2.1"/>
<circle cx="239.69" cy="16.53" r="2.1"/>
<circle cx="242.17" cy="20.66" r="2.1"/>
<circle cx="244.64" cy="19.83" r="2.1"/>
<circle cx="246.30" cy="23.97" r="2.1"/>
<circle cx="248.28" cy="38.84" r="2.1"/>
<circle cx="250.10" cy="55.87" r="2.1"/>
<circle cx="252.25" cy="76.86" r="2.1"/>
<circle cx="254.46" cy="104.63" r="2.1"/>
<circle cx="256.45" cy="131.40" r="2.1"/>
<circle cx="258.43" cy="155.87" r="2.1"/>
<circle cx="260.25" cy="179.67" r="2.1"/>
<circle cx="262.40" cy="186.28" r="2.1"/>
<circle cx="264.71" cy="166.78" r="2.1"/>
<circle cx="266.69" cy="137.19" r="2.1"/>
<circle cx="268.51" cy="109.09" r="2.1"/>
<circle cx="271.09" cy="80.17" r="2.1"/>
<circle cx="272.74" cy="58.68" r="2.1"/>
<circle cx="274.40" cy="50.41" r="2.1"/>
<circle cx="276.55" cy="44.63" r="2.1"/>
<circle cx="278.53" cy="33.55" r="2.1"/>
<circle cx="280.51" cy="25.62" r="2.1"/>
<circle cx="282.66" cy="26.78" r="2.1"/>
<circle cx="285.14" cy="24.79" r="2.1"/>
<circle cx="287.62" cy="21.49" r="2.1"/>
<circle cx="289.77" cy="23.14" r="2.1"/>
<circle cx="292.58" cy="29.75" r="2.1"/>
<circle cx="294.73" cy="30.58" r="2.1"/>
<circle cx="297.04" cy="25.62" r="2.1"/>
<circle cx="299.19" cy="24.46" r="2.1"/>
<circle cx="301.67" cy="21.82" r="2.1"/>
<circle cx="304.15" cy="16.53" r="2.1"/>
<circle cx="306.63" cy="15.21" r="2.1"/>
<circle cx="310.42" cy="21.33" r="2.1"/>
<circle cx="311.90" cy="22.82" r="2.1"/>
<circle cx="314.88" cy="28.27" r="2.1"/>
<circle cx="316.87" cy="43.65" r="2.1"/>
<circle cx="318.85" cy="65.97" r="2.1"/>
<circle cx="320.83" cy="87.66" r="2.1"/>
<circle cx="323.02" cy="113.65" r="2.1"/>
<circle cx="324.79" cy="147.58" r="2.1"/>
<circle cx="326.86" cy="182.70" r="2.1"/>
<circle cx="328.93" cy="204.46" r="2.1"/>
<circle cx="331.40" cy="202.67" r="2.1"/>
<circle cx="333.06" cy="182.70" r="2.1"/>
<circle cx="335.12" cy="157.91" r="2.1"/>
<circle cx="336.90" cy="126.75" r="2.1"/>
<circle cx="338.89" cy="92.82" r="2.1"/>
<circle cx="341.17" cy="68.45" r="2.1"/>
<circle cx="343.15" cy="54.07" r="2.1"/>
<circle cx="345.14" cy="39.68" r="2.1"/>
<circle cx="347.62" cy="21.33" r="2.1"/>
<circle cx="350.79" cy="33.73" r="2.1"/>
<circle cx="353.08" cy="43.15" r="2.1"/>
<circle cx="355.36" cy="55.36" r="2.1"/>
<circle cx="356.93" cy="78.78" r="2.1"/>
<circle cx="358.53" cy="103.73" r="2.1"/>
<circle cx="359.52" cy="123.57" r="2.1"/>
<circle cx="364.46" cy="129.42" r="2.1"/>
<circle cx="367.11" cy="113.55" r="2.1"/>
<circle cx="369.36" cy="89.36" r="2.1"/>
<circle cx="371.07" cy="69.52" r="2.1"/>
<circle cx="373.06" cy="61.59" r="2.1"/>
<circle cx="375.44" cy="66.35" r="2.1"/>
<circle cx="377.69" cy="83.54" r="2.1"/>
<circle cx="379.40" cy="111.57" r="2.1"/>
<circle cx="381.26" cy="141.32" r="2.1"/>
<circle cx="387.60" cy="147.67" r="2.1"/>
<circle cx="389.59" cy="129.02" r="2.1"/>
<circle cx="391.57" cy="102.05" r="2.1"/>
<circle cx="393.55" cy="70.58" r="2.1"/>
<circle cx="395.45" cy="53.39" r="2.1"/>
<circle cx="397.60" cy="44.96" r="2.1"/>
<circle cx="399.26" cy="38.02" r="2.1"/>
<circle cx="401.24" cy="33.88" r="2.1"/>
<circle cx="403.72" cy="33.88" r="2.1"/>
<circle cx="405.37" cy="33.06" r="2.1"/>
<circle cx="407.02" cy="29.75" r="2.1"/>
<circle cx="409.50" cy="23.14" r="2.1"/>
<circle cx="411.49" cy="16.53" r="2.1"/>
<circle cx="413.64" cy="11.90" r="2.1"/>
<circle cx="415.79" cy="13.22" r="2.1"/>
<circle cx="417.77" cy="16.20" r="2.1"/>
<circle cx="420.25" cy="15.70" r="2.1"/>
<circle cx="422.73" cy="19.01" r="2.1"/>
<circle cx="425.21" cy="23.14" r="2.1"/>
<circle cx="427.36" cy="16.53" r="2.1"/>
<circle cx="429.67" cy="11.57" r="2.1"/>
<circle cx="432.31" cy="12.40" r="2.1"/>
<circle cx="434.63" cy="13.22" r="2.1"/>
<circle cx="436.53" cy="15.70" r="2.1"/>
<circle cx="439.01" cy="19.01" r="2.1"/>
<circle cx="440.91" cy="19.83" r="2.1"/>
<circle cx="443.39" cy="19.01" r="2.1"/>
<circle cx="445.87" cy="19.50" r="2.1"/>
<circle cx="448.35" cy="18.51" r="2.1"/>
<circle cx="448.93" cy="20.66" r="2.1"/>
<circle cx="451.40" cy="27.27" r="2.1"/>
<circle cx="453.06" cy="36.36" r="2.1"/>
<circle cx="455.54" cy="46.61" r="2.1"/>
<circle cx="457.69" cy="61.49" r="2.1"/>
<circle cx="459.67" cy="86.28" r="2.1"/>
<circle cx="461.59" cy="124.85" r="2.1"/>
<circle cx="463.75" cy="170.21" r="2.1"/>
<circle cx="465.64" cy="209.89" r="2.1"/>
<circle cx="467.63" cy="243.00" r="2.1"/>
<circle cx="469.83" cy="268.57" r="2.1"/>
<circle cx="471.82" cy="285.10" r="2.1"/>
<circle cx="473.69" cy="291.71" r="2.1"/>
<circle cx="476.45" cy="290.83" r="2.1"/>
<circle cx="478.10" cy="283.11" r="2.1"/>
<circle cx="479.97" cy="268.35" r="2.1"/>
<circle cx="481.84" cy="243.37" r="2.1"/>
<circle cx="484.00" cy="208.81" r="2.1"/>
<circle cx="485.89" cy="166.43" r="2.1"/>
<circle cx="487.51" cy="126.20" r="2.1"/>
<circle cx="489.92" cy="95.37" r="2.1"/>
<circle cx="491.90" cy="70.25" r="2.1"/>
<circle cx="494.05" cy="47.93" r="2.1"/>
<circle cx="496.03" cy="36.36" r="2.1"/>
<circle cx="497.69" cy="34.71" r="2.1"/>
<circle cx="499.67" cy="32.23" r="2.1"/>
<circle cx="501.65" cy="29.75" r="2.1"/>
<circle cx="503.31" cy="28.10" r="2.1"/>
<circle cx="504.96" cy="26.45" r="2.1"/>
<circle cx="506.61" cy="24.79" r="2.1"/>
<circle cx="508.26" cy="21.49" r="2.1"/>
<circle cx="510.08" cy="16.53" r="2.1"/>
<circle cx="511.74" cy="14.55" r="2.1"/>
<circle cx="514.05" cy="20.66" r="2.1"/>
<circle cx="515.70" cy="26.45" r="2.1"/>
<circle cx="517.36" cy="28.10" r="2.1"/>
<circle cx="519.01" cy="30.58" r="2.1"/>
<circle cx="519.17" cy="32.23" r="2.1"/>
<circle cx="520.66" cy="33.06" r="2.1"/>
<circle cx="522.31" cy="35.04" r="2.1"/>
<circle cx="523.97" cy="28.93" r="2.1"/>
<circle cx="525.62" cy="19.83" r="2.1"/>
<circle cx="527.27" cy="17.85" r="2.1"/>
<circle cx="529.75" cy="23.14" r="2.1"/>
<circle cx="531.40" cy="26.45" r="2.1"/>
<circle cx="533.88" cy="18.18" r="2.1"/>
<circle cx="536.03" cy="3.31" r="2.1"/>
<circle cx="539.67" cy="6.61" r="2.1"/>
<circle cx="542.64" cy="16.53" r="2.1"/>
<circle cx="544.30" cy="21.49" r="2.1"/>
<circle cx="546.28" cy="15.70" r="2.1"/>
<circle cx="548.26" cy="11.24" r="2.1"/>
<circle cx="550.41" cy="12.40" r="2.1"/>
<circle cx="552.07" cy="17.36" r="2.1"/>
<circle cx="553.72" cy="21.49" r="2.1"/>
<circle cx="556.20" cy="28.10" r="2.1"/>
<circle cx="558.18" cy="35.04" r="2.1"/>
<circle cx="560.33" cy="39.67" r="2.1"/>
<circle cx="562.48" cy="40.50" r="2.1"/>
<circle cx="564.46" cy="46.28" r="2.1"/>
<circle cx="566.03" cy="61.98" r="2.1"/>
<circle cx="568.18" cy="81.32" r="2.1"/>
<circle cx="570.17" cy="98.68" r="2.1"/>
<circle cx="571.98" cy="110.74" r="2.1"/>
<circle cx="573.97" cy="115.21" r="2.1"/>
<circle cx="576.12" cy="113.55" r="2.1"/>
<circle cx="578.10" cy="101.49" r="2.1"/>
<circle cx="580.08" cy="76.03" r="2.1"/>
<circle cx="582.23" cy="59.50" r="2.1"/>
<circle cx="584.71" cy="52.40" r="2.1"/>
<circle cx="587.19" cy="50.74" r="2.1"/>
<circle cx="588.84" cy="52.40" r="2.1"/>
<circle cx="590.50" cy="65.62" r="2.1"/>
<path d="M302.45,374.57L302.70,374.84L302.95,375.12L303.20,375.42L303.45,375.72L303.70,376.03L303.95,376.35L304.20,376.68L304.45,377.02L304.70,377.36L304.95,377.71L305.20,378.07L305.45,378.43L305.70,378.80L305.95,379.17L306.20,379.55L306.45,379.93L306.70,380.32L306.95,380.70L307.20,381.09L307.45,381.48L307.70,381.87L307.95,382.26L308.20,382.64L308.45,383.03L308.70,383.41L308.95,383.78L309.20,384.15L309.45,384.51L309.70,384.87L309.95,385.21L310.20,385.55L310.45,385.87L310.70,386.19L310.95,386.48L311.20,386.77L311.45,387.03L311.70,387.28L311.95,387.51L312.20,387.72L312.45,387.90L312.70,388.06L312.95,388.20L313.20,388.30L313.45,388.37L313.70,388.38L313.95,388.34L314.20,388.28L314.45,388.18L314.70,388.06L314.95,387.92L315.20,387.76L315.45,387.57L315.70,387.37L315.95,387.15L316.20,386.91L316.45,386.67L316.70,386.40L316.95,386.13L317.20,385.85L317.45,385.55L317.70,385.25L317.95,384.94L318.20,384.63L318.45,384.31L318.70,383.99L318.95,383.66L319.20,383.33L319.45,383.00L319.70,382.67L319.95,382.34L320.20,382.01L320.45,381.69L320.70,381.36L320.95,381.04L321.20,380.73L321.45,380.41L321.70,380.11L321.95,379.80L322.20,379.51L322.45,379.22L322.70,378.94L322.95,378.66L323.20,378.39L323.45,378.13L323.70,377.88L323.95,377.63L324.20,377.40L324.45,377.17L324.70,376.95L324.95,376.74L325.20,376.54L325.45,376.34L325.70,376.16L325.95,375.98L326.20,375.82L326.45,375.66L326.70,375.51L326.95,375.37L327.20,375.24L327.45,375.12L327.70,375.00L327.95,374.90L328.20,374.80L328.45,374.72L328.70,374.64L328.95,374.58L329.20,374.52L329.45,374.47L329.70,374.43L329.95,374.40L330.20,374.39L330.45,374.38L330.70,374.39L330.95,374.41L331.20,374.44L331.45,374.48L331.70,374.54L331.95,374.61L332.20,374.70L332.45,374.80L332.70,374.93L332.95,375.07L333.20,375.23L333.45,375.41L333.70,375.62L333.95,375.85L334.20,376.11L334.45,376.39L334.70,376.70L334.95,377.05L335.20,377.43L335.45,377.84L335.70,378.29L335.95,378.78L336.20,379.31L336.45,379.88L336.70,380.49L336.95,381.16L337.20,381.87L337.45,382.62L337.70,383.44L337.95,384.30L338.20,385.21L338.45,386.18L338.70,387.21L338.95,388.29L339.20,389.43L339.45,390.62L339.70,391.87L339.95,393.17L340.20,394.53L340.45,395.93L340.70,397.39L340.95,398.90L341.20,400.45L341.45,402.04L341.70,403.67L341.95,405.34L342.20,407.03L342.45,408.76L342.70,410.50L342.95,412.26L343.20,414.04L343.45,415.82L343.70,417.60L343.95,419.38L344.20,421.14L344.45,422.89L344.70,424.62L344.95,426.32L345.20,427.98L345.45,429.61L345.70,431.19L345.95,432.72L346.20,434.19L346.45,435.60L346.70,436.94L346.95,438.22L347.20,439.41L347.45,440.54L347.70,441.57L347.95,442.53L348.20,443.39L348.45,444.16L348.70,444.85L348.95,445.43L349.20,445.92L349.45,446.32L349.70,446.62L349.95,446.83L350.20,446.95L350.45,446.98L350.70,446.92L350.95,446.77L351.20,446.52L351.45,446.18L351.70,445.74L351.95,445.21L352.20,444.59L352.45,443.88L352.70,443.07L352.95,442.18L353.20,441.21L353.45,440.16L353.70,439.03L353.95,437.83L354.20,436.57L354.45,435.24L354.70,433.85L354.95,432.41" fill="none" stroke="#ff0000" stroke-width="1.6" stroke-linejoin="round"/>
<path d="M303.20,375.48L303.45,375.79L303.70,376.11L303.95,376.44L304.20,376.78L304.45,377.13L304.70,377.48L304.95,377.85L305.20,378.23L305.45,378.61L305.70,379.00L305.95,379.40L306.20,379.80L306.45,380.21L306.70,380.63L306.95,381.05L307.20,381.48L307.45,381.92L307.70,382.35L307.95,382.80L308.20,383.24L308.45,383.69L308.70,384.14L308.95,384.60L309.20,385.05L309.45,385.51L309.70,385.97L309.95,386.42L310.20,386.88L310.45,387.34L310.70,387.80L310.95,388.25L311.20,388.71L311.45,389.16L311.70,389.61L311.95,390.06L312.20,390.50L312.45,390.94L312.70,391.38L312.95,391.81L313.20,392.23L313.45,392.64L313.70,393.02L313.95,393.38L314.20,393.73L314.45,394.09L314.70,394.45L314.95,394.82L315.20,395.20L315.45,395.60L315.70,396.01L315.95,396.45L316.20,396.90L316.45,397.38L316.70,397.89L316.95,398.43L317.20,399.00L317.45,399.60L317.70,400.23L317.95,400.90L318.20,401.61L318.45,402.36L318.70,403.15L318.95,403.97L319.20,404.84L319.45,405.75L319.70,406.69L319.95,407.68L320.20,408.70L320.45,409.76L320.70,410.86L320.95,411.99L321.20,413.16L321.45,414.35L321.70,415.57L321.95,416.82L322.20,418.09L322.45,419.38L322.70,420.68L322.95,421.99L323.20,423.31L323.45,424.64L323.70,425.96L323.95,427.27L324.20,428.58L324.45,429.86L324.70,431.13L324.95,432.37L325.20,433.58L325.45,434.75L325.70,435.88L325.95,436.96L326.20,437.98L326.45,438.95L326.70,439.86L326.95,440.69L327.20,441.45L327.45,442.13L327.70,442.72L327.95,443.21L328.20,443.60L328.45,443.88L328.70,444.04L328.95,444.03L329.20,443.83L329.45,443.50L329.70,443.06L329.95,442.51L330.20,441.86L330.45,441.12L330.70,440.29L330.95,439.39L331.20,438.43L331.45,437.39L331.70,436.30L331.95,435.16L332.20,433.97L332.45,432.74L332.70,431.47L332.95,430.19L333.20,428.88L333.45,427.55L333.70,426.22L333.95,424.89L334.20,423.57L334.45,422.26L334.70,420.97L334.95,419.70L335.20,418.47L335.45,417.27L335.70,416.12L335.95,415.02L336.20,413.98L336.45,413.00L336.70,412.09L336.95,411.24L337.20,410.48L337.45,409.80L337.70,409.20L337.95,408.69L338.20,408.27L338.45,407.95L338.70,407.72L338.95,407.60L339.20,407.57L339.45,407.64L339.70,407.82L339.95,408.09L340.20,408.46L340.45,408.93L340.70,409.50L340.95,410.16L341.20,410.91L341.45,411.74L341.70,412.65L341.95,413.65L342.20,414.71L342.45,415.83L342.70,417.02L342.95,418.26L343.20,419.55L343.45,420.88L343.70,422.24L343.95,423.62L344.20,425.02L344.45,426.44L344.70,427.85L344.95,429.27L345.20,430.67L345.45,432.05L345.70,433.41L345.95,434.73L346.20,436.01L346.45,437.25L346.70,438.44L346.95,439.57L347.20,440.64L347.45,441.64L347.70,442.57L347.95,443.43L348.20,444.20L348.45,444.90L348.70,445.50L348.95,446.03L349.20,446.46L349.45,446.80L349.70,447.05L349.95,447.22L350.20,447.29L350.45,447.29L350.70,447.20L350.95,447.01L351.20,446.74L351.45,446.38L351.70,445.92L351.95,445.37L352.20,444.73L352.45,444.00L352.70,443.19L352.95,442.29L353.20,441.30L353.45,440.24L353.70,439.11L353.95,437.90" fill="none" stroke="#1e90ff" stroke-width="1.6" stroke-linejoin="round"/>
<path d="M303.95,376.50L304.20,376.85L304.45,377.20L304.70,377.57L304.95,377.95L305.20,378.34L305.45,378.74L305.70,379.14L305.95,379.56L306.20,379.98L306.45,380.41L306.70,380.85L306.95,381.30L307.20,381.76L307.45,382.23L307.70,382.70L307.95,383.18L308.20,383.67L308.45,384.17L308.70,384.67L308.95,385.18L309.20,385.70L309.45,386.23L309.70,386.76L309.95,387.30L310.20,387.85L310.45,388.41L310.70,388.97L310.95,389.54L311.20,390.12L311.45,390.71L311.70,391.31L311.95,391.92L312.20,392.54L312.45,393.16L312.70,393.80L312.95,394.45L313.20,395.10L313.45,395.76L313.70,396.40L313.95,397.05L314.20,397.71L314.45,398.40L314.70,399.11L314.95,399.85L315.20,400.62L315.45,401.44L315.70,402.29L315.95,403.19L316.20,404.14L316.45,405.14L316.70,406.19L316.95,407.30L317.20,408.46L317.45,409.69L317.70,410.97L317.95,412.32L318.20,413.73L318.45,415.20L318.70,416.73L318.95,418.33L319.20,419.99L319.45,421.71L319.70,423.49L319.95,425.33L320.20,427.22L320.45,429.17L320.70,431.16L320.95,433.20L321.20,435.28L321.45,437.39L321.70,439.53L321.95,441.70L322.20,443.89L322.45,446.10L322.70,448.31L322.95,450.52L323.20,452.73L323.45,454.93L323.70,457.11L323.95,459.26L324.20,461.38L324.45,463.46L324.70,465.49L324.95,467.46L325.20,469.38L325.45,471.23L325.70,473.00L325.95,474.68L326.20,476.28L326.45,477.78L326.70,479.17L326.95,480.46L327.20,481.62L327.45,482.66L327.70,483.57L327.95,484.33L328.20,484.94L328.45,485.39L328.70,485.64L328.95,485.66L329.20,485.41L329.45,484.96L329.70,484.33L329.95,483.55L330.20,482.62L330.45,481.56L330.70,480.36L330.95,479.04L331.20,477.61L331.45,476.08L331.70,474.44L331.95,472.72L332.20,470.91L332.45,469.03L332.70,467.08L332.95,465.07L333.20,463.00L333.45,460.90L333.70,458.76L333.95,456.60L334.20,454.42L334.45,452.23L334.70,450.05L334.95,447.87L335.20,445.72L335.45,443.59L335.70,441.50L335.95,439.46L336.20,437.47L336.45,435.55L336.70,433.69L336.95,431.91L337.20,430.22L337.45,428.62L337.70,427.12L337.95,425.72L338.20,424.44L338.45,423.26L338.70,422.20L338.95,421.27L339.20,420.46L339.45,419.77L339.70,419.21L339.95,418.77L340.20,418.47L340.45,418.29L340.70,418.23L340.95,418.29L341.20,418.47L341.45,418.77L341.70,419.17L341.95,419.68L342.20,420.29L342.45,420.99L342.70,421.77L342.95,422.64L343.20,423.57L343.45,424.57L343.70,425.62L343.95,426.72L344.20,427.86L344.45,429.03L344.70,430.22L344.95,431.42L345.20,432.63L345.45,433.83L345.70,435.02L345.95,436.20L346.20,437.35L346.45,438.46L346.70,439.53L346.95,440.56L347.20,441.53L347.45,442.45L347.70,443.30L347.95,444.08L348.20,444.79L348.45,445.43L348.70,445.98L348.95,446.45L349.20,446.84L349.45,447.15L349.70,447.36L349.95,447.50L350.20,447.54L350.45,447.51L350.70,447.40L350.95,447.19L351.20,446.90L351.45,446.52L351.70,446.05L351.95,445.48L352.20,444.83L352.45,444.09L352.70,443.27L352.95,442.36L353.20,441.37" fill="none" stroke="#2e8b57" stroke-width="1.6" stroke-linejoin="round"/>
<path d="M304.95,378.26L305.20,378.68L305.45,379.12L305.70,379.58L305.95,380.05L306.20,380.53L306.45,381.03L306.70,381.54L306.95,382.07L307.20,382.62L307.45,383.19L307.70,383.77L307.95,384.37L308.20,384.99L308.45,385.63L308.70,386.30L308.95,386.98L309.20,387.69L309.45,388.43L309.70,389.19L309.95,389.98L310.20,390.80L310.45,391.65L310.70,392.54L310.95,393.46L311.20,394.42L311.45,395.42L311.70,396.46L311.95,397.55L312.20,398.68L312.45,399.86L312.70,401.09L312.95,402.37L313.20,403.71L313.45,405.10L313.70,406.52L313.95,408.00L314.20,409.55L314.45,411.17L314.70,412.87L314.95,414.67L315.20,416.55L315.45,418.53L315.70,420.61L315.95,422.80L316.20,425.09L316.45,427.49L316.70,430.00L316.95,432.62L317.20,435.36L317.45,438.20L317.70,441.15L317.95,444.21L318.20,447.37L318.45,450.64L318.70,453.99L318.95,457.44L319.20,460.98L319.45,464.59L319.70,468.27L319.95,472.01L320.20,475.80L320.45,479.64L320.70,483.51L320.95,487.41L321.20,491.32L321.45,495.23L321.70,499.13L321.95,503.02L322.20,506.87L322.45,510.68L322.70,514.44L322.95,518.15L323.20,521.77L323.45,525.32L323.70,528.78L323.95,532.14L324.20,535.40L324.45,538.54L324.70,541.56L324.95,544.45L325.20,547.21L325.45,549.84L325.70,552.31L325.95,554.64L326.20,556.82L326.45,558.84L326.70,560.70L326.95,562.40L327.20,563.92L327.45,565.27L327.70,566.44L327.95,567.42L328.20,568.20L328.45,568.78L328.70,569.12L328.95,569.18L329.20,568.89L329.45,568.37L329.70,567.62L329.95,566.68L330.20,565.54L330.45,564.22L330.70,562.72L330.95,561.05L331.20,559.21L331.45,557.20L331.70,555.04L331.95,552.72L332.20,550.25L332.45,547.64L332.70,544.89L332.95,542.00L333.20,538.99L333.45,535.86L333.70,532.61L333.95,529.27L334.20,525.83L334.45,522.30L334.70,518.70L334.95,515.04L335.20,511.33L335.45,507.58L335.70,503.80L335.95,500.02L336.20,496.23L336.45,492.47L336.70,488.73L336.95,485.03L337.20,481.40L337.45,477.83L337.70,474.36L337.95,470.97L338.20,467.70L338.45,464.55L338.70,461.53L338.95,458.66L339.20,455.93L339.45,453.37L339.70,450.96L339.95,448.73L340.20,446.68L340.45,444.80L340.70,443.10L340.95,441.58L341.20,440.24L341.45,439.07L341.70,438.08L341.95,437.26L342.20,436.61L342.45,436.11L342.70,435.76L342.95,435.55L343.20,435.48L343.45,435.53L343.70,435.70L343.95,435.97L344.20,436.34L344.45,436.79L344.70,437.31L344.95,437.90L345.20,438.53L345.45,439.21L345.70,439.92L345.95,440.64L346.20,441.38L346.45,442.12L346.70,442.85L346.95,443.56L347.20,444.25L347.45,444.90L347.70,445.51L347.95,446.08L348.20,446.59L348.45,447.05L348.70,447.44L348.95,447.77L349.20,448.02L349.45,448.21L349.70,448.31L349.95,448.35L350.20,448.31L350.45,448.19L350.70,448.01L350.95,447.74L351.20,447.39L351.45,446.96L351.70,446.44L351.95,445.83L352.20,445.14" fill="none" stroke="#ff8c00" stroke-width="1.6" stroke-linejoin="round"/>
<path d="M62.70,361.37L62.95,361.38L63.20,361.39L63.45,361.39L63.70,361.40L63.95,361.41L64.20,361.41L64.45,361.42L64.70,361.43L64.95,361.43L65.20,361.44L65.45,361.45L65.70,361.45L65.95,361.46L66.20,361.47L66.45,361.47L66.70,361.48L66.95,361.48L67.20,361.49L67.45,361.50L67.70,361.50L67.95,361.51L68.20,361.52L68.45,361.52L68.70,361.53L68.95,361.54L69.20,361.54L69.45,361.55L69.70,361.56L69.95,361.56L70.20,361.57L70.45,361.58L70.70,361.58L70.95,361.59L71.20,361.60L71.45,361.60L71.70,361.61L71.95,361.62L72.20,361.62L72.45,361.63L72.70,361.64L72.95,361.64L73.20,361.65L73.45,361.66L73.70,361.66L73.95,361.67L74.20,361.67L74.45,361.68L74.70,361.69L74.95,361.69L75.20,361.70L75.45,361.71L75.70,361.71L75.95,361.72L76.20,361.73L76.45,361.73L76.70,361.74L76.95,361.75L77.20,361.75L77.45,361.76L77.70,361.77L77.95,361.77L78.20,361.78L78.45,361.79L78.70,361.79L78.95,361.80L79.20,361.81L79.45,361.81L79.70,361.82L79.95,361.83L80.20,361.83L80.45,361.84L80.70,361.85L80.95,361.85L81.20,361.86L81.45,361.87L81.70,361.87L81.95,361.88L82.20,361.88L82.45,361.89L82.70,361.90L82.95,361.90L83.20,361.91L83.45,361.92L83.70,361.92L83.95,361.93L84.20,361.94L84.45,361.94L84.70,361.95L84.95,361.96L85.20,361.96L85.45,361.97L85.70,361.98L85.95,361.98L86.20,361.99L86.45,362.00L86.70,362.00L86.95,362.01L87.20,362.02L87.45,362.02L87.70,362.03L87.95,362.04L88.20,362.04L88.45,362.05L88.70,362.06L88.95,362.06L89.20,362.07L89.45,362.08L89.70,362.08L89.95,362.09L90.20,362.09L90.45,362.10L90.70,362.11L90.95,362.11L91.20,362.12L91.45,362.13L91.70,362.13L91.95,362.14L92.20,362.15L92.45,362.15L92.70,362.16L92.95,362.17L93.20,362.17L93.45,362.18L93.70,362.19L93.95,362.19L94.20,362.20L94.45,362.21L94.70,362.21L94.95,362.22L95.20,362.23L95.45,362.23L95.70,362.24L95.95,362.25L96.20,362.25L96.45,362.26L96.70,362.27L96.95,362.28L97.20,362.28L97.45,362.29L97.70,362.30L97.95,362.31L98.20,362.31L98.45,362.32L98.70,362.33L98.95,362.34L99.20,362.35L99.45,362.36L99.70,362.37L99.95,362.38L100.20,362.39L100.45,362.40L100.70,362.41L100.95,362.42L101.20,362.44L101.45,362.45L101.70,362.47L101.95,362.48L102.20,362.50L102.45,362.52L102.70,362.55L102.95,362.57L103.20,362.60L103.45,362.63L103.70,362.66L103.95,362.70L104.20,362.74L104.45,362.78L104.70,362.83L104.95,362.88L105.20,362.94L105.45,363.01L105.70,363.08L105.95,363.16L106.20,363.25L106.45,363.35L106.70,363.46L106.95,363.58L107.20,363.72L107.45,363.86L107.70,364.02L107.95,364.20L108.20,364.39L108.45,364.61L108.70,364.84L108.95,365.09L109.20,365.37L109.45,365.67L109.70,366.00L109.95,366.35L110.20,366.73L110.45,367.15L110.70,367.60L110.95,368.08L111.20,368.60L111.45,369.16L111.70,369.76L111.95,370.40L112.20,371.08L112.45,371.81L112.70,372.59L112.95,373.42L113.20,374.29L113.45,375.22L113.70,376.19L113.95,377.22L114.20,378.30L114.45,379.43L114.70,380.62L114.95,381.86L115.20,383.15L115.45,384.49L115.70,385.88L115.95,387.32L116.20,388.80L116.45,390.33L116.70,391.90L116.95,393.51L117.20,395.15L117.45,396.82L117.70,398.52L117.95,400.25L118.20,401.99L118.45,403.74L118.70,405.50L118.95,407.27L119.20,409.03L119.45,410.78L119.70,412.52L119.95,414.23L120.20,415.92L120.45,417.57L120.70,419.18L120.95,420.75L121.20,422.26L121.45,423.71L121.70,425.09L121.95,426.40L122.20,427.63L122.45,428.78L122.70,429.84L122.95,430.80L123.20,431.66L123.45,432.41L123.70,433.04L123.95,433.56L124.20,433.94L124.45,434.19L124.70,434.28L124.95,434.19L125.20,433.95L125.45,433.57L125.70,433.07L125.95,432.44L126.20,431.70L126.45,430.85L126.70,429.91L126.95,428.86L127.20,427.73L127.45,426.51L127.70,425.22L127.95,423.85L128.20,422.42L128.45,420.93L128.70,419.39L128.95,417.81L129.20,416.19L129.45,414.53L129.70,412.85L129.95,411.15L130.20,409.43L130.45,407.71L130.70,405.99L130.95,404.27L131.20,402.57L131.45,400.88L131.70,399.21L131.95,397.56L132.20,395.95L132.45,394.37L132.70,392.83L132.95,391.33L133.20,389.87L133.45,388.46L133.70,387.10L133.95,385.79L134.20,384.53L134.45,383.32L134.70,382.17L134.95,381.08L135.20,380.04L135.45,379.06L135.70,378.13L135.95,377.26L136.20,376.44L136.45,375.67L136.70,374.96L136.95,374.29L137.20,373.68L137.45,373.11L137.70,372.58L137.95,372.10L138.20,371.66L138.45,371.26L138.70,370.90L138.95,370.58L139.20,370.28L139.45,370.02L139.70,369.79L139.95,369.58L140.20,369.40L140.45,369.24L140.70,369.10L140.95,368.98L141.20,368.88L141.45,368.80L141.70,368.72L141.95,368.66L142.20,368.61L142.45,368.56L142.70,368.53L142.95,368.49L143.20,368.46L143.45,368.44L143.70,368.41L143.95,368.38L144.20,368.35L144.45,368.30L144.70,368.25L144.95,368.19L145.20,368.12L145.45,368.05L145.70,367.97L145.95,367.89L146.20,367.81L146.45,367.73L146.70,367.64L146.95,367.55L147.20,367.46L147.45,367.36L147.70,367.27L147.95,367.17L148.20,367.07L148.45,366.97L148.70,366.87L148.95,366.77L149.20,366.67L149.45,366.57L149.70,366.47L149.95,366.37L150.20,366.27L150.45,366.17L150.70,366.08L150.95,365.99L151.20,365.89L151.45,365.80L151.70,365.71L151.95,365.63L152.20,365.54L152.45,365.46L152.70,365.38L152.95,365.31L153.20,365.23L153.45,365.16L153.70,365.09L153.95,365.03L154.20,364.96L154.45,364.90L154.70,364.84L154.95,364.79L155.20,364.74L155.45,364.69L155.70,364.64L155.95,364.59L156.20,364.55L156.45,364.51L156.70,364.47L156.95,364.44L157.20,364.40L157.45,364.37L157.70,364.34L157.95,364.32L158.20,364.29L158.45,364.27L158.70,364.25L158.95,364.23L159.20,364.21L159.45,364.19L159.70,364.18L159.95,364.17L160.20,364.15L160.45,364.14L160.70,364.13L160.95,364.12L161.20,364.12L161.45,364.11L161.70,364.10L161.95,364.10L162.20,364.10L162.45,364.09L162.70,364.09L162.95,364.09L163.20,364.09L163.45,364.09L163.70,364.09L163.95,364.09L164.20,364.09L164.45,364.09L164.70,364.09L164.95,364.10L165.20,364.10L165.45,364.10L165.70,364.11L165.95,364.11L166.20,364.11L166.45,364.12L166.70,364.12L166.95,364.13L167.20,364.13L167.45,364.14L167.70,364.14L167.95,364.15L168.20,364.15L168.45,364.16L168.70,364.16L168.95,364.17L169.20,364.17L169.45,364.18L169.70,364.19L169.95,364.19L170.20,364.20L170.45,364.20L170.70,364.21L170.95,364.22L171.20,364.22L171.45,364.23L171.70,364.24L171.95,364.24L172.20,364.25L172.45,364.25L172.70,364.26L172.95,364.27L173.20,364.27L173.45,364.28L173.70,364.29L173.95,364.29L174.20,364.30L174.45,364.31L174.70,364.31L174.95,364.32L175.20,364.33L175.45,364.33L175.70,364.34L175.95,364.35L176.20,364.35L176.45,364.36L176.70,364.37L176.95,364.37L177.20,364.38L177.45,364.38L177.70,364.39L177.95,364.40L178.20,364.40L178.45,364.41L178.70,364.42L178.95,364.42L179.20,364.43L179.45,364.44L179.70,364.44L179.95,364.45L180.20,364.46L180.45,364.46L180.70,364.47L180.95,364.48L181.20,364.48L181.45,364.49L181.70,364.50L181.95,364.50L182.20,364.51L182.45,364.52L182.70,364.52L182.95,364.53L183.20,364.54L183.45,364.54L183.70,364.55L183.95,364.56L184.20,364.56L184.45,364.57L184.70,364.58L184.95,364.58L185.20,364.59L185.45,364.60L185.70,364.60L185.95,364.61L186.20,364.61L186.45,364.62L186.70,364.63L186.95,364.63L187.20,364.64L187.45,364.65L187.70,364.65L187.95,364.66L188.20,364.67L188.45,364.67L188.70,364.68L188.95,364.69L189.20,364.69L189.45,364.70L189.70,364.71L189.95,364.71L190.20,364.72L190.45,364.73L190.70,364.73L190.95,364.74L191.20,364.75L191.45,364.75L191.70,364.76L191.95,364.77L192.20,364.77L192.45,364.78L192.70,364.79L192.95,364.79L193.20,364.80L193.45,364.81L193.70,364.81L193.95,364.82L194.20,364.83L194.45,364.83L194.70,364.84L194.95,364.85L195.20,364.85L195.45,364.86L195.70,364.87L195.95,364.87L196.20,364.88L196.45,364.88L196.70,364.89L196.95,364.90L197.20,364.90L197.45,364.91L197.70,364.92L197.95,364.92L198.20,364.93L198.45,364.94L198.70,364.94L198.95,364.95L199.20,364.96L199.45,364.96L199.70,364.97L199.95,364.98L200.20,364.98L200.45,364.99L200.70,365.00L200.95,365.00L201.20,365.01L201.45,365.02L201.70,365.02L201.95,365.03L202.20,365.04L202.45,365.04L202.70,365.05L202.95,365.06L203.20,365.06L203.45,365.07L203.70,365.08L203.95,365.08L204.20,365.09L204.45,365.10L204.70,365.10L204.95,365.11L205.20,365.12L205.45,365.12L205.70,365.13L205.95,365.14L206.20,365.14L206.45,365.15L206.70,365.16L206.95,365.16L207.20,365.17L207.45,365.18L207.70,365.18L207.95,365.19L208.20,365.20L208.45,365.20L208.70,365.21L208.95,365.22L209.20,365.22L209.45,365.23L209.70,365.24L209.95,365.24L210.20,365.25L210.45,365.26L210.70,365.26L210.95,365.27L211.20,365.28L211.45,365.28L211.70,365.29L211.95,365.30L212.20,365.30L212.45,365.31L212.70,365.32L212.95,365.32L213.20,365.33L213.45,365.34L213.70,365.34L213.95,365.35L214.20,365.36L214.45,365.36L214.70,365.37L214.95,365.38L215.20,365.38L215.45,365.39L215.70,365.40L215.95,365.40L216.20,365.41L216.45,365.42L216.70,365.42L216.95,365.43L217.20,365.44L217.45,365.44L217.70,365.45L217.95,365.46L218.20,365.46L218.45,365.47L218.70,365.48L218.95,365.48L219.20,365.49L219.45,365.50L219.70,365.50L219.95,365.51L220.20,365.52L220.45,365.53L220.70,365.53L220.95,365.54L221.20,365.55L221.45,365.56L221.70,365.56L221.95,365.57L222.20,365.58L222.45,365.59L222.70,365.60L222.95,365.61L223.20,365.62L223.45,365.63L223.70,365.64L223.95,365.65L224.20,365.66L224.45,365.67L224.70,365.69L224.95,365.70L225.20,365.71L225.45,365.73L225.70,365.75L225.95,365.76L226.20,365.78L226.45,365.81L226.70,365.83L226.95,365.85L227.20,365.88L227.45,365.91L227.70,365.94L227.95,365.98L228.20,366.02L228.45,366.06L228.70,366.11L228.95,366.16L229.20,366.21L229.45,366.27L229.70,366.34L229.95,366.41L230.20,366.49L230.45,366.58L230.70,366.67L230.95,366.78L231.20,366.89L231.45,367.01L231.70,367.14L231.95,367.28L232.20,367.44L232.45,367.60L232.70,367.78L232.95,367.98L233.20,368.19L233.45,368.41L233.70,368.65L233.95,368.91L234.20,369.19L234.45,369.49L234.70,369.80L234.95,370.14L235.20,370.49L235.45,370.87L235.70,371.27L235.95,371.70L236.20,372.15L236.45,372.62L236.70,373.11L236.95,373.63L237.20,374.18L237.45,374.75L237.70,375.34L237.95,375.96L238.20,376.60L238.45,377.26L238.70,377.95L238.95,378.66L239.20,379.39L239.45,380.14L239.70,380.90L239.95,381.69L240.20,382.49L240.45,383.30L240.70,384.12L240.95,384.96L241.20,385.80L241.45,386.64L241.70,387.49L241.95,388.33L242.20,389.18L242.45,390.01L242.70,390.84L242.95,391.65L243.20,392.45L243.45,393.23L243.70,393.99L243.95,394.72L244.20,395.43L244.45,396.10L244.70,396.74L244.95,397.34L245.20,397.90L245.45,398.41L245.70,398.88L245.95,399.29L246.20,399.66L246.45,399.96L246.70,400.21L246.95,400.40L247.20,400.51L247.45,400.55L247.70,400.50L247.95,400.38L248.20,400.19L248.45,399.94L248.70,399.64L248.95,399.27L249.20,398.85L249.45,398.39L249.70,397.88L249.95,397.32L250.20,396.72L250.45,396.09L250.70,395.42L250.95,394.72L251.20,394.00L251.45,393.25L251.70,392.48L251.95,391.69L252.20,390.89L252.45,390.07L252.70,389.25L252.95,388.42L253.20,387.59L253.45,386.76L253.70,385.93L253.95,385.10L254.20,384.29L254.45,383.48L254.70,382.69L254.95,381.91L255.20,381.15L255.45,380.40L255.70,379.67L255.95,378.96L256.20,378.28L256.45,377.61L256.70,376.97L256.95,376.35L257.20,375.76L257.45,375.19L257.70,374.64L257.95,374.12L258.20,373.62L258.45,373.15L258.70,372.70L258.95,372.28L259.20,371.88L259.45,371.50L259.70,371.14L259.95,370.81L260.20,370.50L260.45,370.21L260.70,369.94L260.95,369.68L261.20,369.45L261.45,369.23L261.70,369.04L261.95,368.85L262.20,368.69L262.45,368.54L262.70,368.40L262.95,368.28L263.20,368.17L263.45,368.07L263.70,367.98L263.95,367.91L264.20,367.85L264.45,367.80L264.70,367.76L264.95,367.74L265.20,367.72L265.45,367.72L265.70,367.72L265.95,367.74L266.20,367.77L266.45,367.81L266.70,367.86L266.95,367.92L267.20,368.00L267.45,368.09L267.70,368.20L267.95,368.32L268.20,368.45L268.45,368.60L268.70,368.77L268.95,368.96L269.20,369.16L269.45,369.39L269.70,369.64L269.95,369.90L270.20,370.19L270.45,370.51L270.70,370.85L270.95,371.21L271.20,371.60L271.45,372.02L271.70,372.46L271.95,372.93L272.20,373.43L272.45,373.97L272.70,374.52L272.95,375.11L273.20,375.73L273.45,376.38L273.70,377.05L273.95,377.75L274.20,378.48L274.45,379.24L274.70,380.01L274.95,380.81L275.20,381.64L275.45,382.48L275.70,383.33L275.95,384.21L276.20,385.09L276.45,385.98L276.70,386.88L276.95,387.78L277.20,388.68L277.45,389.58L277.70,390.47L277.95,391.35L278.20,392.22L278.45,393.07L278.70,393.89L278.95,394.70L279.20,395.47L279.45,396.22L279.70,396.92L279.95,397.59L280.20,398.22L280.45,398.81L280.70,399.35L280.95,399.84L281.20,400.28L281.45,400.66L281.70,401.00L281.95,401.27L282.20,401.49L282.45,401.65L282.70,401.75L282.95,401.80L283.20,401.79L283.45,401.72L283.70,401.59L283.95,401.41L284.20,401.17L284.45,400.87L284.70,400.52L284.95,400.12L285.20,399.66L285.45,399.16L285.70,398.61L285.95,398.01L286.20,397.38L286.45,396.71L286.70,396.00L286.95,395.26L287.20,394.49L287.45,393.70L287.70,392.89L287.95,392.06L288.20,391.22L288.45,390.36L288.70,389.50L288.95,388.64L289.20,387.78L289.45,386.92L289.70,386.07L289.95,385.22L290.20,384.39L290.45,383.58L290.70,382.78L290.95,382.01L291.20,381.25L291.45,380.52L291.70,379.82L291.95,379.15L292.20,378.50L292.45,377.88L292.70,377.29L292.95,376.73L293.20,376.21L293.45,375.72L293.70,375.25L293.95,374.83L294.20,374.43L294.45,374.06L294.70,373.72L294.95,373.42L295.20,373.14L295.45,372.90L295.70,372.68L295.95,372.49L296.20,372.32L296.45,372.19L296.70,372.07L296.95,371.98L297.20,371.92L297.45,371.87L297.70,371.85L297.95,371.85L298.20,371.87L298.45,371.91L298.70,371.97L298.95,372.04L299.20,372.13L299.45,372.24L299.70,372.37L299.95,372.51L300.20,372.67L300.45,372.84L300.70,373.02L300.95,373.22L301.20,373.43L301.45,373.66L301.70,373.90L301.95,374.15L302.20,374.42L302.45,374.69L302.70,374.98L302.95,375.29L303.20,375.60L303.45,375.93L303.70,376.27L303.95,376.62L304.20,376.98L304.45,377.35L304.70,377.74L304.95,378.14L305.20,378.55L305.45,378.97L305.70,379.41L305.95,379.85L306.20,380.31L306.45,380.78L306.70,381.27L306.95,381.76L307.20,382.27L307.45,382.79L307.70,383.33L307.95,383.88L308.20,384.44L308.45,385.02L308.70,385.61L308.95,386.22L309.20,386.84L309.45,387.49L309.70,388.14L309.95,388.82L310.20,389.52L310.45,390.23L310.70,390.97L310.95,391.73L311.20,392.52L311.45,393.32L311.70,394.16L311.95,395.02L312.20,395.91L312.45,396.83L312.70,397.78L312.95,398.76L313.20,399.77L313.45,400.81L313.70,401.86L313.95,402.94L314.20,404.06L314.45,405.23L314.70,406.46L314.95,407.74L315.20,409.09L315.45,410.51L315.70,412.00L315.95,413.56L316.20,415.20L316.45,416.92L316.70,418.72L316.95,420.61L317.20,422.59L317.45,424.65L317.70,426.80L317.95,429.03L318.20,431.35L318.45,433.75L318.70,436.24L318.95,438.81L319.20,441.45L319.45,444.17L319.70,446.96L319.95,449.81L320.20,452.72L320.45,455.68L320.70,458.69L320.95,461.73L321.20,464.81L321.45,467.92L321.70,471.04L321.95,474.17L322.20,477.30L322.45,480.42L322.70,483.52L322.95,486.60L323.20,489.64L323.45,492.64L323.70,495.59L323.95,498.48L324.20,501.30L324.45,504.04L324.70,506.70L324.95,509.27L325.20,511.73L325.45,514.09L325.70,516.34L325.95,518.47L326.20,520.47L326.45,522.34L326.70,524.07L326.95,525.66L327.20,527.09L327.45,528.36L327.70,529.47L327.95,530.40L328.20,531.15L328.45,531.69L328.70,532.02L328.95,532.06L329.20,531.78L329.45,531.26L329.70,530.53L329.95,529.61L330.20,528.52L330.45,527.25L330.70,525.82L330.95,524.23L331.20,522.50L331.45,520.62L331.70,518.61L331.95,516.48L332.20,514.22L332.45,511.84L332.70,509.36L332.95,506.78L333.20,504.11L333.45,501.36L333.70,498.54L333.95,495.65L334.20,492.71L334.45,489.72L334.70,486.70L334.95,483.66L335.20,480.61L335.45,477.56L335.70,474.51L335.95,471.49L336.20,468.51L336.45,465.56L336.70,462.68L336.95,459.86L337.20,457.11L337.45,454.46L337.70,451.90L337.95,449.44L338.20,447.10L338.45,444.89L338.70,442.80L338.95,440.84L339.20,439.03L339.45,437.36L339.70,435.85L339.95,434.48L340.20,433.27L340.45,432.21L340.70,431.30L340.95,430.54L341.20,429.94L341.45,429.48L341.70,429.16L341.95,428.99L342.20,428.94L342.45,429.02L342.70,429.22L342.95,429.53L343.20,429.94L343.45,430.44L343.70,431.04L343.95,431.70L344.20,432.44L344.45,433.23L344.70,434.07L344.95,434.95L345.20,435.85L345.45,436.78L345.70,437.72L345.95,438.65L346.20,439.58L346.45,440.49L346.70,441.38L346.95,442.24L347.20,443.06L347.45,443.83L347.70,444.55L347.95,445.22L348.20,445.82L348.45,446.35L348.70,446.82L348.95,447.21L349.20,447.53L349.45,447.76L349.70,447.92L349.95,448.00L350.20,447.99L350.45,447.91L350.70,447.76L350.95,447.52L351.20,447.20L351.45,446.78L351.70,446.28L351.95,445.70L352.20,445.02L352.45,444.26L352.70,443.42L352.95,442.49L353.20,441.49L353.45,440.41L353.70,439.25L353.95,438.03L354.20,436.74L354.45,435.39L354.70,433.99L354.95,432.53L355.20,431.03L355.45,429.49L355.70,427.91L355.95,426.31L356.20,424.68L356.45,423.03L356.70,421.37L356.95,419.70L357.20,418.04L357.45,416.38L357.70,414.72L357.95,413.09L358.20,411.47L358.45,409.88L358.70,408.32L358.95,406.79L359.20,405.30L359.45,403.85L359.70,402.44L359.95,401.08L360.20,399.77L360.45,398.51L360.70,397.30L360.95,396.14L361.20,395.04L361.45,393.99L361.70,393.00L361.95,392.07L362.20,391.18L362.45,390.35L362.70,389.58L362.95,388.85L363.20,388.18L363.45,387.55L363.70,386.98L363.95,386.44L364.20,385.95L364.45,385.51L364.70,385.10L364.95,384.73L365.20,384.40L365.45,384.09L365.70,383.83L365.95,383.59L366.20,383.37L366.45,383.19L366.70,383.03L366.95,382.89L367.20,382.77L367.45,382.67L367.70,382.58L367.95,382.52L368.20,382.47L368.45,382.43L368.70,382.40L368.95,382.39L369.20,382.38L369.45,382.38L369.70,382.40L369.95,382.41L370.20,382.44L370.45,382.47L370.70,382.51L370.95,382.55L371.20,382.60L371.45,382.65L371.70,382.70L371.95,382.76L372.20,382.81L372.45,382.87L372.70,382.94L372.95,383.00L373.20,383.07L373.45,383.14L373.70,383.21L373.95,383.28L374.20,383.35L374.45,383.42L374.70,383.50L374.95,383.57L375.20,383.64L375.45,383.72L375.70,383.80L375.95,383.87L376.20,383.95L376.45,384.03L376.70,384.11L376.95,384.18L377.20,384.26L377.45,384.34L377.70,384.42L377.95,384.50L378.20,384.58L378.45,384.66L378.70,384.74L378.95,384.83L379.20,384.91L379.45,384.99L379.70,385.07L379.95,385.16L380.20,385.24L380.45,385.32L380.70,385.41L380.95,385.49L381.20,385.58L381.45,385.66L381.70,385.75L381.95,385.83L382.20,385.92L382.45,386.01L382.70,386.09L382.95,386.18L383.20,386.27L383.45,386.36L383.70,386.45L383.95,386.54L384.20,386.63L384.45,386.72L384.70,386.81L384.95,386.90L385.20,386.99L385.45,387.09L385.70,387.18L385.95,387.27L386.20,387.37L386.45,387.46L386.70,387.56L386.95,387.66L387.20,387.75L387.45,387.85L387.70,387.95L387.95,388.05L388.20,388.15L388.45,388.25L388.70,388.35L388.95,388.45L389.20,388.55L389.45,388.65L389.70,388.76L389.95,388.86L390.20,388.97L390.45,389.07L390.70,389.18L390.95,389.29L391.20,389.40L391.45,389.50L391.70,389.61L391.95,389.72L392.20,389.84L392.45,389.95L392.70,390.06L392.95,390.18L393.20,390.29L393.45,390.41L393.70,390.52L393.95,390.64L394.20,390.76L394.45,390.88L394.70,391.00L394.95,391.12L395.20,391.24L395.45,391.36L395.70,391.49L395.95,391.61L396.20,391.74L396.45,391.87L396.70,391.99L396.95,392.12L397.20,392.25L397.45,392.38L397.70,392.51L397.95,392.64L398.20,392.78L398.45,392.91L398.70,393.05L398.95,393.19L399.20,393.33L399.45,393.47L399.70,393.61L399.95,393.75L400.20,393.90L400.45,394.04L400.70,394.19L400.95,394.34L401.20,394.49L401.45,394.64L401.70,394.80L401.95,394.95L402.20,395.11L402.45,395.27L402.70,395.43L402.95,395.59L403.20,395.76L403.45,395.92L403.70,396.09L403.95,396.26L404.20,396.43L404.45,396.61L404.70,396.78L404.95,396.96L405.20,397.14L405.45,397.32L405.70,397.50L405.95,397.69L406.20,397.87L406.45,398.06L406.70,398.25L406.95,398.45L407.20,398.64L407.45,398.84L407.70,399.04L407.95,399.24L408.20,399.45L408.45,399.65L408.70,399.86L408.95,400.07L409.20,400.28L409.45,400.50L409.70,400.72L409.95,400.94L410.20,401.16L410.45,401.38L410.70,401.61L410.95,401.84L411.20,402.07L411.45,402.31L411.70,402.54L411.95,402.78L412.20,403.02L412.45,403.27L412.70,403.52L412.95,403.76L413.20,404.02L413.45,404.27L413.70,404.53L413.95,404.79L414.20,405.05L414.45,405.31L414.70,405.58L414.95,405.85L415.20,406.12L415.45,406.39L415.70,406.67L415.95,406.95L416.20,407.23L416.45,407.52L416.70,407.80L416.95,408.09L417.20,408.39L417.45,408.68L417.70,408.98L417.95,409.28L418.20,409.58L418.45,409.89L418.70,410.19L418.95,410.51L419.20,410.82L419.45,411.13L419.70,411.45L419.95,411.77L420.20,412.10L420.45,412.42L420.70,412.75L420.95,413.08L421.20,413.41L421.45,413.75L421.70,414.09L421.95,414.43L422.20,414.77L422.45,415.11L422.70,415.46L422.95,415.81L423.20,416.16L423.45,416.52L423.70,416.87L423.95,417.23L424.20,417.59L424.45,417.96L424.70,418.32L424.95,418.69L425.20,419.06L425.45,419.43L425.70,419.81L425.95,420.18L426.20,420.56L426.45,420.94L426.70,421.32L426.95,421.71L427.20,422.09L427.45,422.48L427.70,422.87L427.95,423.26L428.20,423.65L428.45,424.05L428.70,424.45L428.95,424.84L429.20,425.25L429.45,425.65L429.70,426.05L429.95,426.46L430.20,426.87L430.45,427.28L430.70,427.69L430.95,428.10L431.20,428.52L431.45,428.94L431.70,429.36L431.95,429.79L432.20,430.21L432.45,430.64L432.70,431.07L432.95,431.51L433.20,431.95L433.45,432.39L433.70,432.84L433.95,433.29L434.20,433.75L434.45,434.21L434.70,434.67L434.95,435.14L435.20,435.62L435.45,436.10L435.70,436.59L435.95,437.09L436.20,437.60L436.45,438.11L436.70,438.64L436.95,439.17L437.20,439.71L437.45,440.26L437.70,440.83L437.95,441.40L438.20,441.99L438.45,442.59L438.70,443.20L438.95,443.83L439.20,444.47L439.45,445.12L439.70,445.79L439.95,446.47L440.20,447.17L440.45,447.88L440.70,448.61L440.95,449.35L441.20,450.10L441.45,450.86L441.70,451.63L441.95,452.40L442.20,453.10L442.45,453.77L442.70,454.46L442.95,455.16L443.20,455.87L443.45,456.61L443.70,457.36L443.95,458.13L444.20,458.93L444.45,459.75L444.70,460.59L444.95,461.45L445.20,462.34L445.45,463.25L445.70,464.18L445.95,465.13L446.20,466.11L446.45,467.10L446.70,468.12L446.95,469.15L447.20,470.20L447.45,471.27L447.70,472.36L447.95,473.46L448.20,474.57L448.45,475.70L448.70,476.84L448.95,477.99L449.20,479.14L449.45,480.31L449.70,481.48L449.95,482.65L450.20,483.83L450.45,485.01L450.70,486.20L450.95,487.38L451.20,488.56L451.45,489.74L451.70,490.92L451.95,492.09L452.20,493.26L452.45,494.42L452.70,495.57L452.95,496.72L453.20,497.86L453.45,499.00L453.70,500.12L453.95,501.24L454.20,502.34L454.45,503.44L454.70,504.52L454.95,505.60L455.20,506.67L455.45,507.72L455.70,508.77L455.95,509.81L456.20,510.84L456.45,511.86L456.70,512.87L456.95,513.87L457.20,514.86L457.45,515.85L457.70,516.83L457.95,517.81L458.20,518.78L458.45,519.74L458.70,520.71L458.95,521.66L459.20,522.62L459.45,523.58L459.70,524.53L459.95,525.48L460.20,526.44L460.45,527.40L460.70,528.35L460.95,529.32L461.20,530.29L461.45,531.26L461.70,532.24L461.95,533.22L462.20,534.22L462.45,535.22L462.70,536.23L462.95,537.25L463.20,538.28L463.45,539.33L463.70,540.38L463.95,541.45L464.20,542.54L464.45,543.63L464.70,544.74L464.95,545.87L465.20,547.01L465.45,548.17L465.70,549.34L465.95,550.53L466.20,551.73L466.45,552.96L466.70,554.19L466.95,555.44L467.20,556.71L467.45,557.98L467.70,559.27L467.95,560.56L468.20,561.87L468.45,563.18L468.70,564.51L468.95,565.83L469.20,567.17L469.45,568.50L469.70,569.84L469.95,571.19L470.20,572.53L470.45,573.88L470.70,575.23L470.95,576.58L471.20,577.92L471.45,579.27L471.70,580.61L471.95,581.95L472.20,583.28L472.45,584.61L472.70,585.94L472.95,587.26L473.20,588.57L473.45,589.88L473.70,591.18L473.95,592.47L474.20,593.76L474.45,595.03L474.70,596.30L474.95,597.56L475.20,598.81L475.45,600.05L475.70,601.28L475.95,602.49L476.20,603.70L476.45,604.90L476.70,606.08L476.95,607.26L477.20,608.42L477.45,609.57L477.70,610.71L477.95,611.83L478.20,612.94L478.45,614.05L478.70,615.13L478.95,616.21L479.20,617.27L479.45,618.32L479.70,619.35L479.95,620.37L480.20,621.38L480.45,622.38L480.70,623.36L480.95,624.32L481.20,625.28L481.45,626.21L481.70,627.14L481.95,628.04L482.20,628.94L482.45,629.81L482.70,630.68L482.95,631.53L483.20,632.36L483.45,633.17L483.70,633.98L483.95,634.76L484.20,635.53L484.45,636.28L484.70,637.02L484.95,637.74L485.20,638.45L485.45,639.13L485.70,639.81L485.95,640.46L486.20,641.10L486.45,641.72L486.70,642.33L486.95,642.91L487.20,643.49L487.45,644.04L487.70,644.58L487.95,645.11L488.20,645.61L488.45,646.10L488.70,646.58L488.95,647.04L489.20,647.48L489.45,647.91L489.70,648.33L489.95,648.73L490.20,649.11L490.45,649.48L490.70,649.84L490.95,650.18L491.20,650.51L491.45,650.83L491.70,651.13L491.95,651.42L492.20,651.70L492.45,651.97L492.70,652.22L492.95,652.47L493.20,652.70L493.45,652.92L493.70,653.14L493.95,653.34L494.20,653.53L494.45,653.72L494.70,653.89L494.95,654.06L495.20,654.21L495.45,654.36L495.70,654.50L495.95,654.64L496.20,654.76L496.45,654.88L496.70,654.99L496.95,655.10L497.20,655.20L497.45,655.29L497.70,655.37L497.95,655.45L498.20,655.53L498.45,655.59L498.70,655.65L498.95,655.71L499.20,655.75L499.45,655.79L499.70,655.83L499.95,655.85L500.20,655.85L500.45,655.84L500.70,655.82L500.95,655.79L501.20,655.75L501.45,655.70L501.70,655.65L501.95,655.60L502.20,655.54L502.45,655.47L502.70,655.39L502.95,655.32L503.20,655.23L503.45,655.14L503.70,655.04L503.95,654.94L504.20,654.83L504.45,654.71L504.70,654.59L504.95,654.46L505.20,654.32L505.45,654.17L505.70,654.02L505.95,653.86L506.20,653.69L506.45,653.51L506.70,653.33L506.95,653.13L507.20,652.92L507.45,652.71L507.70,652.48L507.95,652.25L508.20,652.00L508.45,651.74L508.70,651.47L508.95,651.19L509.20,650.90L509.45,650.59L509.70,650.27L509.95,649.94L510.20,649.59L510.45,649.23L510.70,648.86L510.95,648.47L511.20,648.06L511.45,647.64L511.70,647.21L511.95,646.75L512.20,646.28L512.45,645.79L512.70,645.29L512.95,644.77L513.20,644.23L513.45,643.67L513.70,643.09L513.95,642.49L514.20,641.88L514.45,641.24L514.70,640.59L514.95,639.92L515.20,639.22L515.45,638.51L515.70,637.77L515.95,637.02L516.20,636.24L516.45,635.45L516.70,634.63L516.95,633.79L517.20,632.94L517.45,632.06L517.70,631.16L517.95,630.24L518.20,629.30L518.45,628.35L518.70,627.37L518.95,626.37L519.20,625.35L519.45,624.32L519.70,623.27L519.95,622.19L520.20,621.11L520.45,620.00L520.70,618.88L520.95,617.74L521.20,616.58L521.45,615.41L521.70,614.23L521.95,613.03L522.20,611.82L522.45,610.59L522.70,609.36L522.95,608.11L523.20,606.85L523.45,605.58L523.70,604.30L523.95,603.01L524.20,601.72L524.45,600.42L524.70,599.11L524.95,597.80L525.20,596.48L525.45,595.16L525.70,593.83L525.95,592.51L526.20,591.18L526.45,589.85L526.70,588.52L526.95,587.19L527.20,585.86L527.45,584.53L527.70,583.21L527.95,581.89L528.20,580.57L528.45,579.26L528.70,577.95L528.95,576.65L529.20,575.35L529.45,574.06L529.70,572.77L529.95,571.50L530.20,570.23L530.45,568.96L530.70,567.71L530.95,566.45L531.20,565.21L531.45,563.96L531.70,562.72L531.95,561.45L532.20,559.98L532.45,558.49L532.70,556.98L532.95,555.47L533.20,553.96L533.45,552.45L533.70,550.95L533.95,549.44L534.20,547.94L534.45,546.45L534.70,544.96L534.95,543.48L535.20,542.00L535.45,540.53L535.70,539.07L535.95,537.62L536.20,536.17L536.45,534.74L536.70,533.31L536.95,531.90L537.20,530.49L537.45,529.10L537.70,527.71L537.95,526.34L538.20,524.98L538.45,523.63L538.70,522.29L538.95,520.96L539.20,519.65L539.45,518.35L539.70,517.06L539.95,515.78L540.20,514.52L540.45,513.27L540.70,512.03L540.95,510.81L541.20,509.59L541.45,508.39L541.70,507.21L541.95,506.04L542.20,504.88L542.45,503.73L542.70,502.60L542.95,501.48L543.20,500.37L543.45,499.28L543.70,498.20L543.95,497.13L544.20,496.08L544.45,495.04L544.70,494.01L544.95,492.99L545.20,491.99L545.45,491.00L545.70,490.02L545.95,489.05L546.20,488.10L546.45,487.16L546.70,486.23L546.95,485.32L547.20,484.41L547.45,483.52L547.70,482.64L547.95,481.77L548.20,480.92L548.45,480.07L548.70,479.24L548.95,478.42L549.20,477.61L549.45,476.82L549.70,476.04L549.95,475.26L550.20,474.51L550.45,473.76L550.70,473.03L550.95,472.30L551.20,471.60L551.45,470.90L551.70,470.22L551.95,469.55L552.20,468.90L552.45,468.26L552.70,467.63L552.95,467.02L553.20,466.43L553.45,465.85L553.70,465.28L553.95,464.73L554.20,464.20L554.45,463.69L554.70,463.19L554.95,462.71L555.20,462.25L555.45,461.81L555.70,461.38L555.95,460.98L556.20,460.59L556.45,460.23L556.70,459.88L556.95,459.55L557.20,459.25L557.45,458.96L557.70,458.69L557.95,458.44L558.20,458.21L558.45,458.00L558.70,457.80L558.95,457.62L559.20,457.46L559.45,457.32L559.70,457.19L559.95,457.07L560.20,456.96L560.45,456.87L560.70,456.79L560.95,456.71L561.20,456.65L561.45,456.59L561.70,456.53L561.95,456.47L562.20,456.42L562.45,456.36L562.70,456.30L562.95,456.24L563.20,456.17L563.45,456.09L563.70,456.00L563.95,455.90L564.20,455.78L564.45,455.65L564.70,455.51L564.95,455.34L565.20,455.16L565.45,454.96L565.70,454.74L565.95,454.49L566.20,454.22L566.45,453.93L566.70,453.62L566.95,453.28L567.20,452.92L567.45,452.53L567.70,452.13L567.95,451.70L568.20,451.24L568.45,450.76L568.70,450.26L568.95,449.73L569.20,449.18L569.45,448.61L569.70,448.01L569.95,447.39L570.20,446.76L570.45,446.10L570.70,445.43L570.95,444.74L571.20,444.04L571.45,443.33L571.70,442.60L571.95,441.87L572.20,441.13L572.45,440.38L572.70,439.63L572.95,438.87L573.20,438.12L573.45,437.37L573.70,436.61L573.95,435.87L574.20,435.12L574.45,434.39L574.70,433.66L574.95,432.94L575.20,432.23L575.45,431.54L575.70,430.85L575.95,430.18L576.20,429.52L576.45,428.88L576.70,428.25L576.95,427.63L577.20,427.04L577.45,426.45L577.70,425.88L577.95,425.33L578.20,424.79L578.45,424.27L578.70,423.76L578.95,423.27L579.20,422.79L579.45,422.33L579.70,421.87L579.95,421.44L580.20,421.01L580.45,420.60L580.70,420.19L580.95,419.80L581.20,419.42L581.45,419.05L581.70,418.70L581.95,418.35L582.20,418.01L582.45,417.67L582.70,417.35L582.95,417.04L583.20,416.74L583.45,416.46L583.70,416.18L583.95,415.92L584.20,415.68L584.45,415.46L584.70,415.26L584.95,415.08L585.20,414.94L585.45,414.83L585.70,414.75L585.95,414.72L586.20,414.73L586.45,414.78L586.70,414.88L586.95,415.02L587.20,415.20L587.45,415.42L587.70,415.68L587.95,415.95L588.20,416.24L588.45,416.53L588.70,416.80L588.95,417.05L589.20,417.26L589.45,417.42L589.70,417.51L589.95,417.53L590.20,417.47L590.45,417.32L590.70,417.08" fill="none" stroke="#000" stroke-width="1.7" stroke-linejoin="round"/>
<circle cx="63.65" cy="363.90" r="2.1"/>
<circle cx="65.38" cy="363.73" r="2.1"/>
<circle cx="66.13" cy="366.55" r="2.1"/>
<circle cx="67.82" cy="362.75" r="2.1"/>
<circle cx="69.78" cy="361.29" r="2.1"/>
<circle cx="72.71" cy="363.73" r="2.1"/>
<circle cx="74.66" cy="365.20" r="2.1"/>
<circle cx="76.13" cy="366.66" r="2.1"/>
<circle cx="77.60" cy="364.22" r="2.1"/>
<circle cx="79.36" cy="363.24" r="2.1"/>
<circle cx="81.02" cy="362.75" r="2.1"/>
<circle cx="82.48" cy="364.22" r="2.1"/>
<circle cx="83.95" cy="363.24" r="2.1"/>
<circle cx="85.42" cy="361.78" r="2.1"/>
<circle cx="87.37" cy="360.80" r="2.1"/>
<circle cx="89.27" cy="359.93" r="2.1"/>
<circle cx="91.28" cy="360.80" r="2.1"/>
<circle cx="93.24" cy="363.24" r="2.1"/>
<circle cx="94.70" cy="366.66" r="2.1"/>
<circle cx="96.17" cy="368.62" r="2.1"/>
<circle cx="97.63" cy="369.60" r="2.1"/>
<circle cx="99.19" cy="368.86" r="2.1"/>
<circle cx="101.06" cy="366.66" r="2.1"/>
<circle cx="103.01" cy="363.73" r="2.1"/>
<circle cx="104.97" cy="361.29" r="2.1"/>
<circle cx="106.30" cy="360.26" r="2.1"/>
<circle cx="107.90" cy="361.29" r="2.1"/>
<circle cx="110.26" cy="368.53" r="2.1"/>
<circle cx="112.41" cy="376.79" r="2.1"/>
<circle cx="114.56" cy="383.07" r="2.1"/>
<circle cx="116.21" cy="391.34" r="2.1"/>
<circle cx="118.53" cy="404.56" r="2.1"/>
<circle cx="120.18" cy="419.77" r="2.1"/>
<circle cx="122.33" cy="426.05" r="2.1"/>
<circle cx="124.48" cy="423.07" r="2.1"/>
<circle cx="126.79" cy="416.79" r="2.1"/>
<circle cx="128.94" cy="410.68" r="2.1"/>
<circle cx="130.60" cy="401.59" r="2.1"/>
<circle cx="132.74" cy="395.31" r="2.1"/>
<circle cx="134.73" cy="388.69" r="2.1"/>
<circle cx="137.21" cy="382.58" r="2.1"/>
<circle cx="139.69" cy="381.75" r="2.1"/>
<circle cx="142.17" cy="380.93" r="2.1"/>
<circle cx="144.64" cy="375.14" r="2.1"/>
<circle cx="147.12" cy="373.16" r="2.1"/>
<circle cx="149.60" cy="370.18" r="2.1"/>
<circle cx="151.65" cy="364.89" r="2.1"/>
<circle cx="152.08" cy="367.21" r="2.1"/>
<circle cx="153.74" cy="364.40" r="2.1"/>
<circle cx="155.39" cy="372.66" r="2.1"/>
<circle cx="157.04" cy="373.49" r="2.1"/>
<circle cx="159.09" cy="372.66" r="2.1"/>
<circle cx="161.57" cy="371.83" r="2.1"/>
<circle cx="164.05" cy="369.85" r="2.1"/>
<circle cx="165.70" cy="368.53" r="2.1"/>
<circle cx="168.18" cy="362.25" r="2.1"/>
<circle cx="170.66" cy="366.05" r="2.1"/>
<circle cx="173.14" cy="367.70" r="2.1"/>
<circle cx="175.62" cy="366.88" r="2.1"/>
<circle cx="178.93" cy="373.49" r="2.1"/>
<circle cx="181.07" cy="377.62" r="2.1"/>
<circle cx="183.06" cy="374.31" r="2.1"/>
<circle cx="184.71" cy="368.53" r="2.1"/>
<circle cx="187.19" cy="374.31" r="2.1"/>
<circle cx="189.67" cy="375.97" r="2.1"/>
<circle cx="191.32" cy="368.53" r="2.1"/>
<circle cx="193.31" cy="361.92" r="2.1"/>
<circle cx="195.95" cy="366.05" r="2.1"/>
<circle cx="197.93" cy="369.36" r="2.1"/>
<circle cx="200.41" cy="363.24" r="2.1"/>
<circle cx="202.89" cy="365.22" r="2.1"/>
<circle cx="205.37" cy="367.70" r="2.1"/>
<circle cx="207.85" cy="369.85" r="2.1"/>
<circle cx="210.33" cy="368.53" r="2.1"/>
<circle cx="212.81" cy="366.88" r="2.1"/>
<circle cx="215.29" cy="364.40" r="2.1"/>
<circle cx="217.77" cy="368.53" r="2.1"/>
<circle cx="219.42" cy="371.01" r="2.1"/>
<circle cx="221.90" cy="370.51" r="2.1"/>
<circle cx="224.38" cy="369.85" r="2.1"/>
<circle cx="226.86" cy="370.51" r="2.1"/>
<circle cx="229.34" cy="370.18" r="2.1"/>
<circle cx="231.32" cy="369.19" r="2.1"/>
<circle cx="231.82" cy="371.01" r="2.1"/>
<circle cx="234.30" cy="371.83" r="2.1"/>
<circle cx="236.78" cy="373.49" r="2.1"/>
<circle cx="238.43" cy="376.79" r="2.1"/>
<circle cx="239.26" cy="379.11" r="2.1"/>
<circle cx="240.91" cy="383.40" r="2.1"/>
<circle cx="243.22" cy="388.36" r="2.1"/>
<circle cx="245.21" cy="387.04" r="2.1"/>
<circle cx="247.19" cy="385.72" r="2.1"/>
<circle cx="249.17" cy="387.70" r="2.1"/>
<circle cx="251.16" cy="390.35" r="2.1"/>
<circle cx="253.14" cy="386.38" r="2.1"/>
<circle cx="255.12" cy="383.07" r="2.1"/>
<circle cx="257.11" cy="380.43" r="2.1"/>
<circle cx="259.09" cy="379.11" r="2.1"/>
<circle cx="261.07" cy="377.12" r="2.1"/>
<circle cx="263.06" cy="371.17" r="2.1"/>
<circle cx="265.04" cy="366.28" r="2.1"/>
<circle cx="267.02" cy="365.22" r="2.1"/>
<circle cx="268.35" cy="367.87" r="2.1"/>
<circle cx="269.67" cy="369.85" r="2.1"/>
<circle cx="271.26" cy="372.50" r="2.1"/>
<circle cx="272.58" cy="375.14" r="2.1"/>
<circle cx="274.30" cy="378.45" r="2.1"/>
<circle cx="275.62" cy="380.43" r="2.1"/>
<circle cx="276.94" cy="382.41" r="2.1"/>
<circle cx="278.93" cy="386.38" r="2.1"/>
<circle cx="280.91" cy="390.35" r="2.1"/>
<circle cx="282.89" cy="394.98" r="2.1"/>
<circle cx="284.21" cy="396.30" r="2.1"/>
<circle cx="285.54" cy="390.35" r="2.1"/>
<circle cx="287.12" cy="384.40" r="2.1"/>
<circle cx="288.84" cy="381.75" r="2.1"/>
<circle cx="290.56" cy="378.45" r="2.1"/>
<circle cx="292.15" cy="375.80" r="2.1"/>
<circle cx="294.13" cy="373.82" r="2.1"/>
<circle cx="295.95" cy="373.88" r="2.1"/>
<circle cx="298.10" cy="373.16" r="2.1"/>
<circle cx="300.08" cy="374.21" r="2.1"/>
<circle cx="301.98" cy="375.87" r="2.1"/>
<circle cx="303.22" cy="377.19" r="2.1"/>
<circle cx="304.05" cy="379.11" r="2.1"/>
<circle cx="305.21" cy="380.50" r="2.1"/>
<circle cx="306.45" cy="382.82" r="2.1"/>
<circle cx="308.02" cy="385.06" r="2.1"/>
<circle cx="309.17" cy="389.09" r="2.1"/>
<circle cx="311.11" cy="397.20" r="2.1"/>
<circle cx="313.39" cy="405.63" r="2.1"/>
<circle cx="315.67" cy="416.05" r="2.1"/>
<circle cx="317.66" cy="430.91" r="2.1"/>
<circle cx="319.84" cy="444.31" r="2.1"/>
<circle cx="322.02" cy="464.64" r="2.1"/>
<circle cx="323.83" cy="493.50" r="2.1"/>
<circle cx="325.48" cy="521.05" r="2.1"/>
<circle cx="328.24" cy="530.28" r="2.1"/>
<circle cx="329.61" cy="526.83" r="2.1"/>
<circle cx="331.96" cy="513.06" r="2.1"/>
<circle cx="334.16" cy="493.09" r="2.1"/>
<circle cx="335.71" cy="469.60" r="2.1"/>
<circle cx="338.00" cy="449.76" r="2.1"/>
<circle cx="339.98" cy="436.69" r="2.1"/>
<circle cx="342.46" cy="428.45" r="2.1"/>
<circle cx="345.63" cy="440.34" r="2.1"/>
<circle cx="347.62" cy="446.29" r="2.1"/>
<circle cx="350.10" cy="446.29" r="2.1"/>
<circle cx="351.32" cy="444.30" r="2.1"/>
<circle cx="354.07" cy="440.34" r="2.1"/>
<circle cx="356.05" cy="430.91" r="2.1"/>
<circle cx="357.70" cy="416.86" r="2.1"/>
<circle cx="359.82" cy="408.93" r="2.1"/>
<circle cx="361.40" cy="404.96" r="2.1"/>
<circle cx="363.39" cy="395.70" r="2.1"/>
<circle cx="365.37" cy="391.07" r="2.1"/>
<circle cx="367.36" cy="387.77" r="2.1"/>
<circle cx="367.85" cy="385.62" r="2.1"/>
<circle cx="369.34" cy="386.45" r="2.1"/>
<circle cx="370.66" cy="384.46" r="2.1"/>
<circle cx="373.14" cy="386.45" r="2.1"/>
<circle cx="375.62" cy="390.58" r="2.1"/>
<circle cx="378.10" cy="390.58" r="2.1"/>
<circle cx="382.23" cy="382.31" r="2.1"/>
<circle cx="384.71" cy="386.45" r="2.1"/>
<circle cx="386.69" cy="390.58" r="2.1"/>
<circle cx="389.67" cy="388.93" r="2.1"/>
<circle cx="392.15" cy="390.58" r="2.1"/>
<circle cx="394.63" cy="396.36" r="2.1"/>
<circle cx="397.11" cy="395.54" r="2.1"/>
<circle cx="399.59" cy="394.71" r="2.1"/>
<circle cx="402.89" cy="393.88" r="2.1"/>
<circle cx="405.37" cy="394.71" r="2.1"/>
<circle cx="406.53" cy="402.64" r="2.1"/>
<circle cx="407.85" cy="414.21" r="2.1"/>
<circle cx="409.83" cy="419.50" r="2.1"/>
<circle cx="411.98" cy="421.16" r="2.1"/>
<circle cx="414.46" cy="426.94" r="2.1"/>
<circle cx="416.45" cy="433.55" r="2.1"/>
<circle cx="418.60" cy="436.86" r="2.1"/>
<circle cx="420.74" cy="435.21" r="2.1"/>
<circle cx="422.73" cy="430.25" r="2.1"/>
<circle cx="425.21" cy="427.44" r="2.1"/>
<circle cx="427.69" cy="429.42" r="2.1"/>
<circle cx="430.17" cy="432.73" r="2.1"/>
<circle cx="432.31" cy="436.36" r="2.1"/>
<circle cx="434.30" cy="441.82" r="2.1"/>
<circle cx="435.95" cy="447.60" r="2.1"/>
<circle cx="438.43" cy="453.39" r="2.1"/>
<circle cx="440.25" cy="460.33" r="2.1"/>
<circle cx="442.23" cy="464.13" r="2.1"/>
<circle cx="444.05" cy="469.92" r="2.1"/>
<circle cx="446.20" cy="476.20" r="2.1"/>
<circle cx="448.35" cy="478.18" r="2.1"/>
<circle cx="448.51" cy="483.97" r="2.1"/>
<circle cx="450.17" cy="492.23" r="2.1"/>
<circle cx="452.31" cy="500.50" r="2.1"/>
<circle cx="454.46" cy="507.11" r="2.1"/>
<circle cx="456.78" cy="513.22" r="2.1"/>
<circle cx="458.43" cy="521.98" r="2.1"/>
<circle cx="460.25" cy="529.42" r="2.1"/>
<circle cx="462.73" cy="532.73" r="2.1"/>
<circle cx="464.71" cy="539.01" r="2.1"/>
<circle cx="466.69" cy="550.58" r="2.1"/>
<circle cx="468.47" cy="565.70" r="2.1"/>
<circle cx="470.10" cy="580.36" r="2.1"/>
<circle cx="470.50" cy="578.68" r="2.1"/>
<circle cx="472.70" cy="592.57" r="2.1"/>
<circle cx="474.66" cy="602.67" r="2.1"/>
<circle cx="476.61" cy="608.86" r="2.1"/>
<circle cx="478.73" cy="616.19" r="2.1"/>
<circle cx="480.85" cy="623.84" r="2.1"/>
<circle cx="482.80" cy="628.40" r="2.1"/>
<circle cx="484.43" cy="631.34" r="2.1"/>
<circle cx="486.38" cy="635.73" r="2.1"/>
<circle cx="488.50" cy="641.43" r="2.1"/>
<circle cx="490.94" cy="646.32" r="2.1"/>
<circle cx="493.39" cy="648.76" r="2.1"/>
<circle cx="495.83" cy="649.90" r="2.1"/>
<circle cx="498.27" cy="650.39" r="2.1"/>
<circle cx="500.72" cy="649.90" r="2.1"/>
<circle cx="502.67" cy="648.76" r="2.1"/>
<circle cx="504.79" cy="647.13" r="2.1"/>
<circle cx="507.23" cy="646.32" r="2.1"/>
<circle cx="509.67" cy="645.50" r="2.1"/>
<circle cx="512.12" cy="645.02" r="2.1"/>
<circle cx="514.56" cy="643.88" r="2.1"/>
<circle cx="516.19" cy="640.62" r="2.1"/>
<circle cx="517.82" cy="638.18" r="2.1"/>
<circle cx="519.45" cy="635.73" r="2.1"/>
<circle cx="521.07" cy="632.48" r="2.1"/>
<circle cx="523.19" cy="623.19" r="2.1"/>
<circle cx="525.15" cy="608.53" r="2.1"/>
<circle cx="527.10" cy="593.88" r="2.1"/>
<circle cx="529.22" cy="581.17" r="2.1"/>
<circle cx="530.85" cy="571.73" r="2.1"/>
<circle cx="532.23" cy="562.33" r="2.1"/>
<circle cx="534.71" cy="554.89" r="2.1"/>
<circle cx="537.19" cy="543.73" r="2.1"/>
<circle cx="539.18" cy="532.57" r="2.1"/>
<circle cx="540.91" cy="522.66" r="2.1"/>
<circle cx="543.39" cy="512.74" r="2.1"/>
<circle cx="545.38" cy="501.58" r="2.1"/>
<circle cx="547.11" cy="491.17" r="2.1"/>
<circle cx="549.09" cy="484.22" r="2.1"/>
<circle cx="550.83" cy="478.77" r="2.1"/>
<circle cx="552.81" cy="470.59" r="2.1"/>
<circle cx="555.05" cy="461.91" r="2.1"/>
<circle cx="557.53" cy="459.43" r="2.1"/>
<circle cx="560.75" cy="463.15" r="2.1"/>
<circle cx="563.23" cy="461.91" r="2.1"/>
<circle cx="565.71" cy="458.93" r="2.1"/>
<circle cx="568.19" cy="451.99" r="2.1"/>
<circle cx="569.43" cy="444.55" r="2.1"/>
<circle cx="571.91" cy="439.59" r="2.1"/>
<circle cx="574.39" cy="427.19" r="2.1"/>
<circle cx="577.36" cy="422.23" r="2.1"/>
<circle cx="579.84" cy="419.26" r="2.1"/>
<circle cx="581.82" cy="414.80" r="2.1"/>
<circle cx="584.30" cy="412.32" r="2.1"/>
<circle cx="586.78" cy="413.56" r="2.1"/>
<circle cx="588.77" cy="414.80" r="2.1"/>
<text x="88.30" y="324.60" font-family="Liberation Sans, sans-serif" font-weight="bold" font-size="14" text-anchor="middle" letter-spacing="0.9" stroke="#000" stroke-width="0.35">2274.5</text>
<text x="214.06" y="324.60" font-family="Liberation Sans, sans-serif" font-weight="bold" font-size="14" text-anchor="middle" letter-spacing="0.9" stroke="#000" stroke-width="0.35">2275.0</text>
<text x="339.83" y="324.60" font-family="Liberation Sans, sans-serif" font-weight="bold" font-size="14" text-anchor="middle" letter-spacing="0.9" stroke="#000" stroke-width="0.35">2275.5</text>
<text x="465.59" y="324.60" font-family="Liberation Sans, sans-serif" font-weight="bold" font-size="14" text-anchor="middle" letter-spacing="0.9" stroke="#000" stroke-width="0.35">2276.0</text>
<text x="591.35" y="324.60" font-family="Liberation Sans, sans-serif" font-weight="bold" font-size="14" text-anchor="middle" letter-spacing="0.9" stroke="#000" stroke-width="0.35">2276.5</text>
<text x="57.50" y="311.70" font-family="Liberation Sans, sans-serif" font-weight="bold" font-size="14" text-anchor="end" letter-spacing="1" stroke="#000" stroke-width="0.35">0.0</text>
<text x="57.50" y="252.38" font-family="Liberation Sans, sans-serif" font-weight="bold" font-size="14" text-anchor="end" letter-spacing="1" stroke="#000" stroke-width="0.35">0.2</text>
<text x="57.50" y="193.06" font-family="Liberation Sans, sans-serif" font-weight="bold" font-size="14" text-anchor="end" letter-spacing="1" stroke="#000" stroke-width="0.35">0.4</text>
<text x="57.50" y="133.74" font-family="Liberation Sans, sans-serif" font-weight="bold" font-size="14" text-anchor="end" letter-spacing="1" stroke="#000" stroke-width="0.35">0.6</text>
<text x="57.50" y="74.42" font-family="Liberation Sans, sans-serif" font-weight="bold" font-size="14" text-anchor="end" letter-spacing="1" stroke="#000" stroke-width="0.35">0.8</text>
<text x="57.50" y="15.10" font-family="Liberation Sans, sans-serif" font-weight="bold" font-size="14" text-anchor="end" letter-spacing="1" stroke="#000" stroke-width="0.35"><tspan font-family="Liberation Serif, serif" font-size="14.5">1</tspan>.0</text>
<text x="63.15" y="676.70" font-family="Liberation Sans, sans-serif" font-weight="bold" font-size="14" text-anchor="middle" letter-spacing="0.9" stroke="#000" stroke-width="0.35">2397.5</text>
<text x="188.91" y="676.70" font-family="Liberation Sans, sans-serif" font-weight="bold" font-size="14" text-anchor="middle" letter-spacing="0.9" stroke="#000" stroke-width="0.35">2398.0</text>
<text x="314.67" y="676.70" font-family="Liberation Sans, sans-serif" font-weight="bold" font-size="14" text-anchor="middle" letter-spacing="0.9" stroke="#000" stroke-width="0.35">2398.5</text>
<text x="440.44" y="676.70" font-family="Liberation Sans, sans-serif" font-weight="bold" font-size="14" text-anchor="middle" letter-spacing="0.9" stroke="#000" stroke-width="0.35">2399.0</text>
<text x="566.20" y="676.70" font-family="Liberation Sans, sans-serif" font-weight="bold" font-size="14" text-anchor="middle" letter-spacing="0.9" stroke="#000" stroke-width="0.35">2399.5</text>
<text x="57.50" y="663.80" font-family="Liberation Sans, sans-serif" font-weight="bold" font-size="14" text-anchor="end" letter-spacing="1" stroke="#000" stroke-width="0.35">0.0</text>
<text x="57.50" y="604.52" font-family="Liberation Sans, sans-serif" font-weight="bold" font-size="14" text-anchor="end" letter-spacing="1" stroke="#000" stroke-width="0.35">0.2</text>
<text x="57.50" y="545.24" font-family="Liberation Sans, sans-serif" font-weight="bold" font-size="14" text-anchor="end" letter-spacing="1" stroke="#000" stroke-width="0.35">0.4</text>
<text x="57.50" y="485.96" font-family="Liberation Sans, sans-serif" font-weight="bold" font-size="14" text-anchor="end" letter-spacing="1" stroke="#000" stroke-width="0.35">0.6</text>
<text x="57.50" y="426.68" font-family="Liberation Sans, sans-serif" font-weight="bold" font-size="14" text-anchor="end" letter-spacing="1" stroke="#000" stroke-width="0.35">0.8</text>
<text x="57.50" y="367.40" font-family="Liberation Sans, sans-serif" font-weight="bold" font-size="14" text-anchor="end" letter-spacing="1" stroke="#000" stroke-width="0.35"><tspan font-family="Liberation Serif, serif" font-size="14.5">1</tspan>.0</text>
<text x="328.00" y="721" font-family="Liberation Serif, serif" font-size="22.5" text-anchor="middle" letter-spacing="1.6" stroke="#000" stroke-width="0.55">Wavelength (Å)</text>
<text transform="translate(16.3,334.85) rotate(-90)" font-family="Liberation Serif, serif" font-size="22.5" text-anchor="middle" letter-spacing="1.9" stroke="#000" stroke-width="0.55">Relative Flux</text>
<text x="112.6" y="545.6" font-family="Liberation Mono, monospace" font-weight="bold" font-size="14" fill="#ff0000" stroke="#ff0000" stroke-width="0.2">no Ca</text>
<text x="113.2" y="569.3" font-family="Liberation Sans, sans-serif" font-weight="bold" font-size="14" fill="#1e90ff" stroke="#1e90ff" stroke-width="0.2" letter-spacing="0.2">best</text>
<text x="156" y="569.3" font-family="Liberation Sans, sans-serif" font-weight="bold" font-size="14" fill="#1e90ff" stroke="#1e90ff" stroke-width="0.2" text-anchor="middle">–</text>
<text x="169.4" y="569.3" font-family="Liberation Sans, sans-serif" font-weight="bold" font-size="14" fill="#1e90ff" stroke="#1e90ff" stroke-width="0.2" letter-spacing="0.4">0.6</text>
<text x="113.2" y="593.6" font-family="Liberation Sans, sans-serif" font-weight="bold" font-size="14" fill="#2e8b57" stroke="#2e8b57" stroke-width="0.2" letter-spacing="0.2">best</text>
<text x="156" y="593.6" font-family="Liberation Sans, sans-serif" font-weight="bold" font-size="14" fill="#2e8b57" stroke="#2e8b57" stroke-width="0.2" text-anchor="middle">–</text>
<text x="169.4" y="593.6" font-family="Liberation Sans, sans-serif" font-weight="bold" font-size="14" fill="#2e8b57" stroke="#2e8b57" stroke-width="0.2" letter-spacing="0.4">0.3</text>
<text x="113.2" y="617.2" font-family="Liberation Sans, sans-serif" font-weight="bold" font-size="14" fill="#000" stroke="#000" stroke-width="0.2" letter-spacing="0.2">best</text>
<text x="113.2" y="640.9" font-family="Liberation Sans, sans-serif" font-weight="bold" font-size="14" fill="#ff8c00" stroke="#ff8c00" stroke-width="0.2" letter-spacing="0.2">best</text>
<text x="156" y="640.9" font-family="Liberation Sans, sans-serif" font-weight="bold" font-size="14" fill="#ff8c00" stroke="#ff8c00" stroke-width="0.2" text-anchor="middle">+</text>
<text x="169.4" y="640.9" font-family="Liberation Sans, sans-serif" font-weight="bold" font-size="14" fill="#ff8c00" stroke="#ff8c00" stroke-width="0.2" letter-spacing="0.4">0.3</text>
</svg></body></html>
